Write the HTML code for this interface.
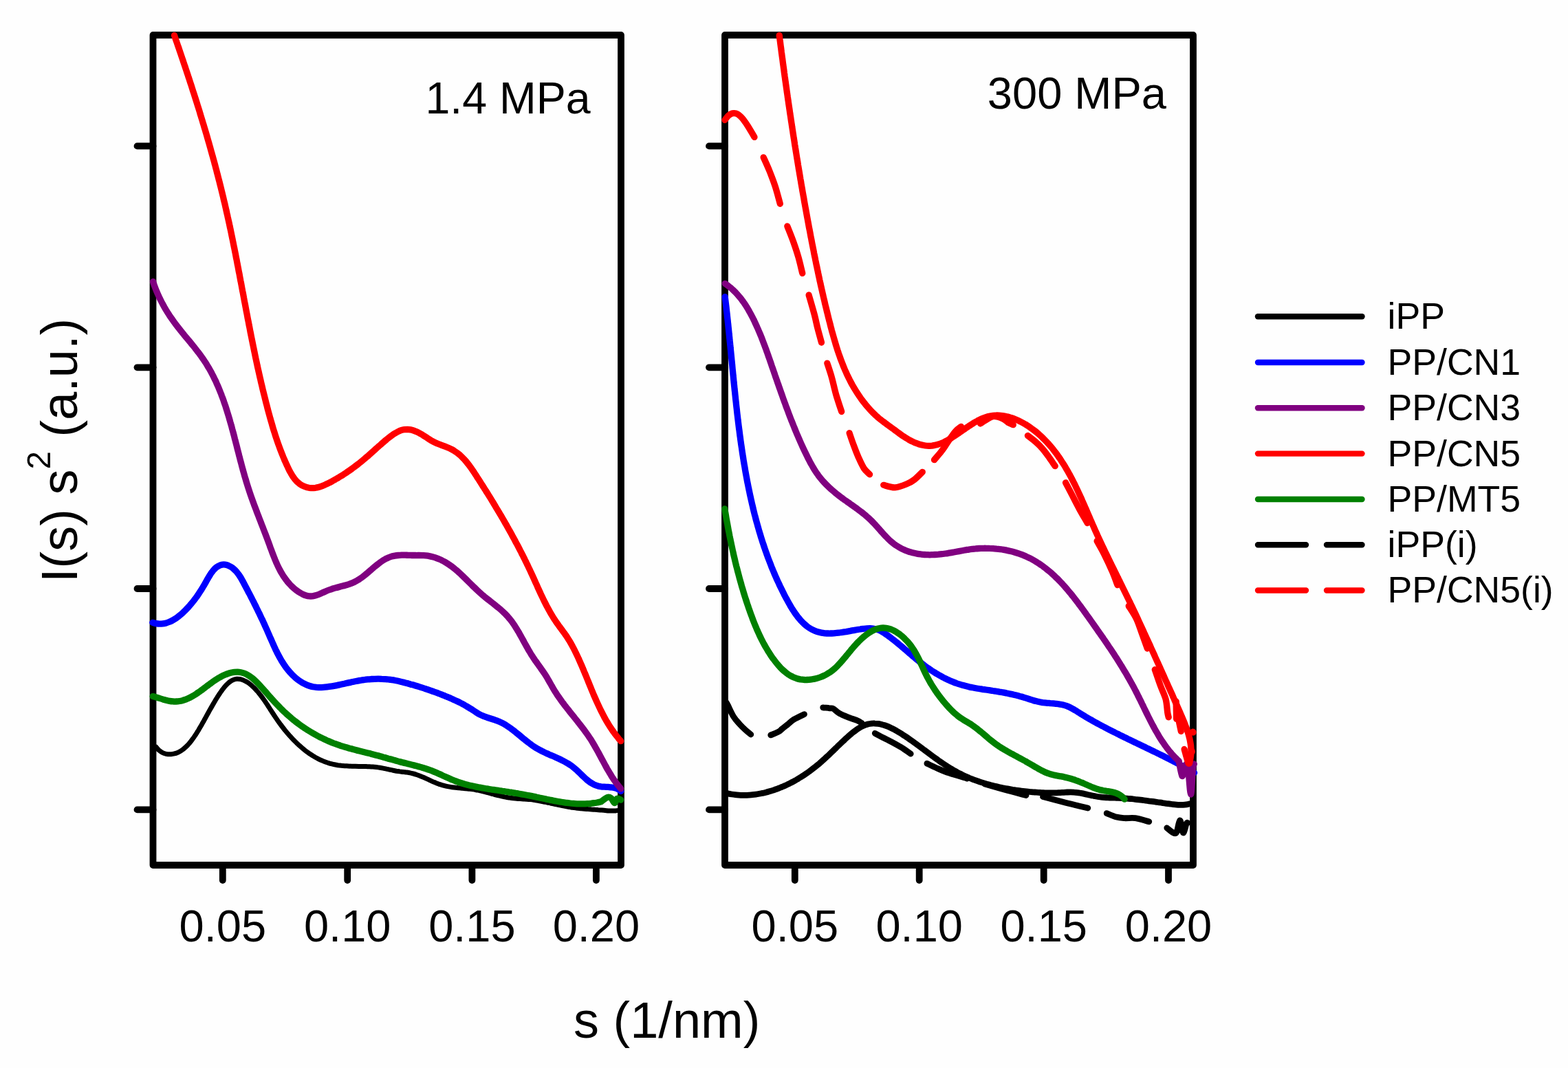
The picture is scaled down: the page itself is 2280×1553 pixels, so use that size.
<!DOCTYPE html>
<html><head><meta charset="utf-8"><title>I(s) s2 vs s</title>
<style>html,body{margin:0;padding:0;background:#fefefe;}svg{display:block;}</style>
</head><body>
<svg xmlns="http://www.w3.org/2000/svg" width="2280" height="1553" viewBox="0 0 2280 1553">
<rect width="2280" height="1553" fill="#fefefe"/>
<g fill="none" stroke="#000" stroke-width="9.8" stroke-linecap="round" stroke-linejoin="round"><path d="M222.5 51H903V1258H222.5Z"/><path d="M199.5 212.4H222.5"/><path d="M199.5 534.3H222.5"/><path d="M199.5 856H222.5"/><path d="M199.5 1177.4H222.5"/><path d="M323.8 1258V1280"/><path d="M505.2 1258V1280"/><path d="M686.4 1258V1280"/><path d="M866.9 1258V1280"/><path d="M1054 51H1735V1258H1054Z"/><path d="M1031 212.4H1054"/><path d="M1031 534.3H1054"/><path d="M1031 856H1054"/><path d="M1031 1177.4H1054"/><path d="M1155.8 1258V1280"/><path d="M1336.7 1258V1280"/><path d="M1517.7 1258V1280"/><path d="M1699 1258V1280"/></g>
<g fill="none" stroke-linecap="round" stroke-linejoin="round"><path d="M227 1086.3C227.6 1087 229.5 1089.4 230.8 1090.6C232.2 1091.8 233.6 1092.9 235 1093.7C236.5 1094.6 238 1095.2 239.5 1095.7C241 1096.2 242.6 1096.5 244.2 1096.7C245.7 1096.8 247.3 1096.8 248.9 1096.7C250.5 1096.6 252 1096.3 253.6 1095.9C255.1 1095.5 256.6 1095 258.1 1094.4C259.6 1093.8 261 1093 262.4 1092.2C263.8 1091.4 265.1 1090.4 266.5 1089.4C267.8 1088.4 269 1087.3 270.2 1086.2C271.5 1085 272.7 1083.8 273.8 1082.5C275 1081.2 276.1 1079.9 277.2 1078.5C278.3 1077.2 279.3 1075.8 280.3 1074.3C281.4 1072.9 282.4 1071.5 283.3 1070C284.3 1068.6 285.2 1067.1 286.2 1065.6C287.1 1064.2 288 1062.7 288.9 1061.3C289.7 1059.8 290.6 1058.4 291.4 1056.9C292.3 1055.5 293.1 1054.1 293.9 1052.6C294.7 1051.2 295.5 1049.8 296.3 1048.4C297.1 1046.9 297.9 1045.5 298.7 1044.1C299.5 1042.7 300.2 1041.2 301 1039.8C301.8 1038.4 302.6 1037 303.4 1035.5C304.1 1034.1 304.9 1032.7 305.7 1031.3C306.5 1029.8 307.3 1028.4 308.2 1027C309 1025.5 309.8 1024.1 310.7 1022.6C311.5 1021.2 312.4 1019.8 313.2 1018.3C314.1 1016.8 315 1015.4 316 1013.9C316.9 1012.4 317.9 1011 318.8 1009.5C319.8 1008 320.8 1006.5 321.9 1005C322.9 1003.5 324 1002 325.1 1000.7C326.2 999.3 327.3 997.9 328.5 996.6C329.7 995.3 330.9 994.1 332.1 993.1C333.3 992 334.6 991 335.9 990.2C337.2 989.4 338.6 988.7 340 988.2C341.3 987.7 342.8 987.4 344.2 987.3C345.6 987.2 347.1 987.3 348.6 987.5C350.1 987.7 351.6 988.2 353.1 988.7C354.6 989.2 356.1 990 357.6 990.8C359.1 991.6 360.5 992.5 361.9 993.5C363.3 994.5 364.7 995.7 366 996.8C367.4 998 368.7 999.3 369.9 1000.5C371.2 1001.8 372.4 1003.1 373.5 1004.5C374.7 1005.8 375.8 1007.1 376.9 1008.5C378 1009.8 379 1011.1 380.1 1012.5C381.1 1013.8 382.1 1015.2 383 1016.5C384 1017.9 385 1019.3 385.9 1020.6C386.8 1022 387.7 1023.3 388.6 1024.7C389.5 1026.1 390.4 1027.4 391.3 1028.8C392.1 1030.2 393 1031.5 393.9 1032.9C394.8 1034.3 395.7 1035.6 396.6 1037C397.5 1038.4 398.3 1039.8 399.3 1041.1C400.2 1042.5 401.1 1043.9 402.1 1045.3C403 1046.6 404 1048 404.9 1049.4C405.9 1050.7 406.9 1052.1 407.9 1053.4C408.9 1054.8 409.9 1056.1 411 1057.5C412 1058.8 413.1 1060.2 414.1 1061.5C415.2 1062.8 416.3 1064.1 417.4 1065.4C418.5 1066.7 419.6 1068 420.7 1069.3C421.9 1070.6 423 1071.8 424.2 1073.1C425.3 1074.3 426.5 1075.6 427.7 1076.8C428.9 1078 430.1 1079.2 431.3 1080.4C432.5 1081.5 433.7 1082.7 435 1083.8C436.2 1085 437.5 1086.1 438.8 1087.2C440.1 1088.3 441.4 1089.3 442.7 1090.4C444 1091.4 445.3 1092.4 446.6 1093.4C448 1094.4 449.3 1095.3 450.7 1096.3C452.1 1097.2 453.5 1098.1 454.9 1099C456.3 1099.8 457.7 1100.7 459.1 1101.5C460.6 1102.3 462 1103 463.5 1103.8C464.9 1104.5 466.4 1105.2 467.9 1105.8C469.4 1106.5 470.9 1107.1 472.4 1107.7C473.9 1108.3 475.5 1108.8 477 1109.3C478.6 1109.8 480.1 1110.3 481.7 1110.7C483.3 1111.1 484.9 1111.5 486.5 1111.8C488.1 1112.1 489.8 1112.4 491.4 1112.7C493 1112.9 494.7 1113.1 496.4 1113.3C498 1113.5 499.7 1113.6 501.4 1113.7C503.1 1113.8 504.8 1113.9 506.5 1114C508.1 1114.1 509.9 1114.2 511.6 1114.2C513.3 1114.3 515 1114.3 516.7 1114.3C518.4 1114.4 520.1 1114.4 521.8 1114.4C523.5 1114.4 525.3 1114.5 527 1114.5C528.7 1114.5 530.4 1114.6 532.1 1114.6C533.8 1114.7 535.5 1114.7 537.2 1114.8C538.9 1114.9 540.6 1115 542.3 1115.1C543.9 1115.2 545.6 1115.4 547.3 1115.6C548.9 1115.8 550.6 1116 552.2 1116.2C553.9 1116.5 555.5 1116.8 557.1 1117.1C558.7 1117.4 560.3 1117.8 561.9 1118.1C563.6 1118.5 565.1 1118.9 566.7 1119.2C568.4 1119.6 570 1119.9 571.6 1120.3C573.2 1120.6 574.8 1120.9 576.4 1121.2C578.1 1121.4 579.7 1121.6 581.4 1121.9C583 1122.1 584.7 1122.2 586.4 1122.4C588 1122.7 589.7 1122.8 591.3 1123.1C593 1123.3 594.6 1123.6 596.3 1123.9C597.9 1124.2 599.5 1124.6 601.1 1125C602.7 1125.4 604.3 1125.9 605.8 1126.5C607.4 1127 609 1127.6 610.5 1128.2C612.1 1128.8 613.6 1129.4 615.1 1130.1C616.6 1130.7 618.2 1131.4 619.7 1132.1C621.2 1132.8 622.7 1133.5 624.2 1134.2C625.8 1134.9 627.3 1135.6 628.8 1136.3C630.3 1137 631.9 1137.6 633.4 1138.3C634.9 1138.9 636.5 1139.5 638 1140.1C639.6 1140.6 641.1 1141.2 642.7 1141.6C644.3 1142.1 645.9 1142.5 647.5 1142.9C649.1 1143.3 650.7 1143.6 652.4 1143.9C654 1144.2 655.7 1144.5 657.3 1144.7C659 1144.9 660.6 1145.1 662.3 1145.3C664 1145.5 665.7 1145.6 667.3 1145.8C669 1145.9 670.7 1146.1 672.4 1146.2C674.1 1146.4 675.7 1146.5 677.4 1146.7C679.1 1146.9 680.8 1147 682.5 1147.2C684.1 1147.4 685.8 1147.6 687.5 1147.9C689.1 1148.1 690.8 1148.4 692.4 1148.7C694.1 1149 695.7 1149.4 697.4 1149.7C699 1150.1 700.6 1150.5 702.2 1150.9C703.9 1151.3 705.5 1151.7 707.1 1152.1C708.7 1152.5 710.4 1152.9 712 1153.4C713.6 1153.8 715.2 1154.3 716.8 1154.7C718.4 1155.1 720 1155.6 721.7 1156C723.3 1156.4 724.9 1156.8 726.5 1157.2C728.1 1157.6 729.8 1158 731.4 1158.3C733 1158.6 734.7 1159 736.3 1159.3C737.9 1159.6 739.6 1159.8 741.2 1160.1C742.9 1160.3 744.5 1160.5 746.2 1160.7C747.8 1160.9 749.5 1161.1 751.2 1161.2C752.8 1161.4 754.5 1161.5 756.2 1161.6C757.8 1161.7 759.5 1161.8 761.1 1161.9C762.8 1162 764.5 1162.1 766.1 1162.2C767.8 1162.3 769.5 1162.5 771.1 1162.6C772.8 1162.8 774.4 1163 776 1163.3C777.7 1163.5 779.3 1163.8 781 1164.1C782.6 1164.4 784.2 1164.7 785.9 1165C787.5 1165.3 789.1 1165.6 790.8 1166C792.4 1166.3 794 1166.7 795.7 1167C797.3 1167.3 798.9 1167.7 800.6 1168C802.2 1168.4 803.8 1168.7 805.5 1169.1C807.1 1169.4 808.7 1169.8 810.4 1170.1C812 1170.5 813.6 1170.8 815.3 1171.1C816.9 1171.5 818.5 1171.8 820.2 1172.1C821.8 1172.4 823.4 1172.7 825.1 1173C826.7 1173.3 828.4 1173.6 830 1173.9C831.7 1174.1 833.3 1174.4 835 1174.6C836.6 1174.9 838.3 1175.1 839.9 1175.3C841.6 1175.5 843.3 1175.6 844.9 1175.8C846.6 1175.9 848.3 1176.1 849.9 1176.2C851.6 1176.3 853.3 1176.4 855 1176.6C856.6 1176.7 858.3 1176.8 860 1176.9C861.7 1177 863.3 1177.1 865 1177.3C866.7 1177.4 868.4 1177.5 870 1177.7C871.7 1177.8 873.4 1178 875 1178.1C876.7 1178.3 878.4 1178.5 880 1178.6C881.7 1178.7 883.3 1178.9 885 1178.9C886.7 1179 888.3 1179.1 890 1179.1C891.7 1179.1 893.3 1179 895 1178.9C896.7 1178.8 899.2 1178.5 900 1178.4" stroke="#000000" stroke-width="7"/><path d="M221.8 905.3C222.7 905.5 225.3 906.4 227 906.7C228.7 907 230.3 907.2 232 907.2C233.7 907.2 235.3 907.1 236.9 906.9C238.5 906.7 240.1 906.3 241.7 905.9C243.3 905.5 244.8 904.9 246.3 904.3C247.9 903.6 249.4 902.9 250.8 902.1C252.3 901.3 253.7 900.4 255.2 899.5C256.6 898.6 258 897.5 259.3 896.5C260.7 895.4 262 894.3 263.3 893.2C264.6 892.1 265.9 890.9 267.1 889.7C268.4 888.5 269.6 887.3 270.7 886.1C271.9 884.9 273.1 883.7 274.2 882.5C275.3 881.2 276.4 880 277.4 878.8C278.5 877.5 279.5 876.3 280.5 875C281.5 873.7 282.5 872.5 283.5 871.2C284.5 869.9 285.4 868.6 286.4 867.2C287.3 865.9 288.2 864.6 289.1 863.2C290 861.9 290.9 860.5 291.8 859.1C292.7 857.7 293.6 856.2 294.5 854.8C295.4 853.3 296.2 851.8 297.1 850.3C298 848.8 298.9 847.2 299.7 845.7C300.6 844.1 301.5 842.5 302.4 841C303.3 839.4 304.2 837.8 305.2 836.3C306.1 834.8 307.1 833.3 308.2 831.9C309.2 830.6 310.2 829.2 311.4 828C312.5 826.8 313.7 825.7 314.9 824.8C316.2 823.8 317.5 823 318.9 822.4C320.3 821.8 321.7 821.3 323.2 821.1C324.7 820.9 326.2 820.9 327.6 821.1C329.1 821.3 330.6 821.8 332.1 822.4C333.5 823 335 823.8 336.4 824.7C337.8 825.6 339.2 826.7 340.4 827.9C341.7 829 343 830.3 344.1 831.6C345.3 832.9 346.3 834.3 347.3 835.7C348.3 837.1 349.2 838.5 350.1 840C351 841.5 351.8 843 352.6 844.5C353.5 846 354.3 847.5 355 849C355.8 850.5 356.6 852 357.4 853.5C358.2 855 359 856.5 359.8 858C360.6 859.5 361.3 861 362.1 862.4C362.9 863.9 363.7 865.4 364.4 866.9C365.2 868.4 365.9 869.9 366.7 871.4C367.5 872.9 368.2 874.3 369 875.8C369.7 877.3 370.5 878.8 371.2 880.3C372 881.8 372.7 883.3 373.4 884.8C374.2 886.2 374.9 887.7 375.6 889.2C376.3 890.7 377.1 892.2 377.8 893.7C378.5 895.2 379.2 896.7 379.9 898.2C380.6 899.7 381.4 901.2 382.1 902.7C382.8 904.2 383.5 905.7 384.2 907.3C384.9 908.8 385.5 910.3 386.2 911.8C386.9 913.3 387.6 914.9 388.3 916.4C389 917.9 389.6 919.5 390.3 921C391 922.6 391.7 924.1 392.3 925.7C393 927.2 393.7 928.8 394.4 930.3C395 931.8 395.7 933.4 396.4 934.9C397.1 936.5 397.8 938 398.5 939.6C399.2 941.1 399.9 942.6 400.6 944.2C401.3 945.7 402.1 947.2 402.8 948.7C403.6 950.2 404.4 951.7 405.2 953.2C405.9 954.7 406.8 956.2 407.6 957.6C408.4 959.1 409.3 960.5 410.1 961.9C411 963.4 411.9 964.8 412.9 966.2C413.8 967.6 414.7 968.9 415.7 970.3C416.7 971.6 417.7 973 418.8 974.3C419.9 975.6 420.9 976.9 422.1 978.1C423.2 979.4 424.3 980.6 425.5 981.8C426.7 983 427.9 984.1 429.2 985.2C430.5 986.3 431.7 987.4 433.1 988.4C434.4 989.4 435.7 990.3 437.1 991.2C438.5 992.1 439.9 992.9 441.3 993.7C442.8 994.5 444.2 995.2 445.8 995.8C447.3 996.5 448.8 997 450.4 997.5C451.9 998 453.5 998.4 455.1 998.7C456.8 999 458.4 999.2 460.1 999.4C461.8 999.5 463.5 999.6 465.2 999.6C466.9 999.6 468.6 999.5 470.3 999.4C472.1 999.3 473.8 999.1 475.5 998.9C477.3 998.7 479 998.5 480.7 998.2C482.4 998 484.1 997.7 485.8 997.4C487.5 997.1 489.2 996.7 490.8 996.4C492.5 996 494.1 995.7 495.8 995.3C497.4 995 499 994.6 500.6 994.3C502.3 993.9 503.9 993.5 505.5 993.1C507.1 992.8 508.7 992.4 510.3 992.1C511.9 991.7 513.5 991.4 515.2 991C516.8 990.7 518.4 990.4 520 990.1C521.6 989.8 523.3 989.5 524.9 989.2C526.5 988.9 528.2 988.7 529.8 988.5C531.5 988.3 533.1 988.1 534.8 987.9C536.5 987.7 538.2 987.6 539.8 987.5C541.5 987.4 543.2 987.3 544.9 987.3C546.6 987.2 548.3 987.2 550 987.2C551.7 987.2 553.3 987.2 555 987.3C556.7 987.3 558.4 987.4 560.1 987.6C561.7 987.7 563.4 987.8 565.1 988C566.7 988.2 568.4 988.4 570 988.7C571.7 988.9 573.3 989.2 574.9 989.5C576.6 989.8 578.2 990.2 579.8 990.5C581.4 990.9 583 991.3 584.7 991.7C586.3 992.1 587.9 992.5 589.5 992.9C591.1 993.3 592.7 993.8 594.3 994.2C595.9 994.7 597.5 995.1 599.1 995.6C600.7 996 602.3 996.5 603.9 997C605.4 997.5 607 997.9 608.6 998.4C610.2 998.9 611.8 999.4 613.4 999.9C615 1000.4 616.6 1000.9 618.2 1001.5C619.8 1002 621.4 1002.5 622.9 1003C624.5 1003.6 626.1 1004.1 627.7 1004.7C629.3 1005.2 630.8 1005.8 632.4 1006.4C634 1006.9 635.5 1007.5 637.1 1008.1C638.7 1008.7 640.2 1009.3 641.8 1009.9C643.4 1010.5 644.9 1011.1 646.5 1011.7C648 1012.4 649.6 1013 651.1 1013.7C652.7 1014.3 654.2 1015 655.8 1015.6C657.3 1016.3 658.8 1017 660.3 1017.7C661.9 1018.4 663.4 1019.1 664.9 1019.8C666.4 1020.5 667.9 1021.2 669.4 1022C670.9 1022.8 672.4 1023.5 673.9 1024.3C675.3 1025.1 676.8 1025.9 678.2 1026.8C679.7 1027.6 681.1 1028.5 682.6 1029.4C684 1030.2 685.4 1031.2 686.8 1032.1C688.2 1033 689.6 1034 691 1034.9C692.4 1035.8 693.8 1036.7 695.2 1037.6C696.6 1038.4 698.1 1039.2 699.6 1039.9C701.1 1040.6 702.7 1041.2 704.2 1041.8C705.8 1042.4 707.3 1043 708.9 1043.5C710.5 1044 712.1 1044.5 713.7 1045C715.3 1045.5 716.9 1046 718.5 1046.5C720.1 1047.1 721.6 1047.6 723.2 1048.2C724.7 1048.8 726.2 1049.4 727.7 1050.1C729.2 1050.8 730.7 1051.5 732.1 1052.3C733.5 1053.1 734.9 1054 736.3 1054.8C737.7 1055.7 739.1 1056.6 740.4 1057.6C741.8 1058.5 743.1 1059.5 744.4 1060.5C745.8 1061.5 747.1 1062.5 748.4 1063.5C749.7 1064.6 751 1065.6 752.3 1066.7C753.6 1067.7 754.9 1068.8 756.2 1069.9C757.4 1070.9 758.7 1072 760 1073.1C761.3 1074.2 762.6 1075.2 763.9 1076.3C765.2 1077.3 766.5 1078.4 767.9 1079.4C769.2 1080.4 770.5 1081.4 771.9 1082.4C773.2 1083.4 774.6 1084.4 776 1085.3C777.4 1086.2 778.8 1087.1 780.2 1088C781.6 1088.8 783.1 1089.7 784.5 1090.4C786 1091.2 787.5 1092 789 1092.7C790.5 1093.5 792 1094.2 793.5 1094.9C795.1 1095.6 796.6 1096.2 798.1 1096.9C799.7 1097.6 801.2 1098.3 802.8 1098.9C804.3 1099.6 805.8 1100.3 807.4 1100.9C808.9 1101.6 810.5 1102.3 812 1103C813.5 1103.7 815 1104.4 816.5 1105.2C818 1105.9 819.5 1106.7 821 1107.5C822.5 1108.3 823.9 1109.1 825.4 1110C826.8 1110.8 828.2 1111.7 829.6 1112.7C831 1113.6 832.4 1114.6 833.7 1115.7C835 1116.8 836.3 1117.9 837.6 1119C838.9 1120.1 840.1 1121.3 841.4 1122.5C842.6 1123.7 843.8 1124.9 845.1 1126.1C846.3 1127.3 847.5 1128.5 848.8 1129.7C850 1130.8 851.3 1132 852.5 1133.1C853.8 1134.2 855.1 1135.2 856.4 1136.2C857.7 1137.2 859 1138.1 860.4 1138.9C861.7 1139.8 863.1 1140.6 864.6 1141.2C866 1141.8 867.5 1142.4 869.1 1142.8C870.6 1143.3 872.2 1143.5 873.8 1143.8C875.5 1144 877.2 1144.1 878.9 1144.2C880.6 1144.3 882.3 1144.3 884 1144.4C885.7 1144.6 887.4 1144.6 889.1 1144.9C890.8 1145.1 892.4 1145.3 894 1145.8C895.6 1146.2 897.2 1146.8 898.6 1147.5C900.1 1148.3 902.1 1150 902.8 1150.5" stroke="#0000ff" stroke-width="9.3"/><path d="M222.5 409.5C222.8 410.3 223.6 412.7 224.1 414.3C224.7 415.9 225.3 417.5 225.9 419.1C226.5 420.7 227.1 422.2 227.8 423.8C228.4 425.3 229.1 426.9 229.8 428.4C230.5 429.9 231.2 431.4 231.9 433C232.6 434.5 233.3 435.9 234.1 437.4C234.8 438.9 235.6 440.4 236.4 441.8C237.2 443.3 238 444.7 238.8 446.2C239.6 447.6 240.5 449 241.3 450.5C242.2 451.9 243 453.3 243.9 454.7C244.8 456.1 245.7 457.5 246.6 458.9C247.5 460.3 248.5 461.6 249.4 463C250.4 464.4 251.3 465.7 252.3 467.1C253.3 468.4 254.2 469.8 255.2 471.1C256.2 472.4 257.3 473.8 258.3 475.1C259.3 476.4 260.3 477.7 261.4 479C262.4 480.4 263.5 481.7 264.5 483C265.6 484.3 266.7 485.6 267.7 486.9C268.8 488.2 269.9 489.5 270.9 490.8C272 492.1 273.1 493.4 274.2 494.7C275.2 496 276.3 497.3 277.4 498.6C278.4 499.9 279.5 501.2 280.6 502.5C281.6 503.8 282.7 505.1 283.7 506.4C284.8 507.7 285.8 509.1 286.8 510.4C287.9 511.7 288.9 513 289.9 514.4C290.9 515.7 291.9 517.1 292.8 518.4C293.8 519.8 294.7 521.1 295.7 522.5C296.6 523.9 297.5 525.3 298.4 526.6C299.3 528 300.2 529.4 301.1 530.9C302 532.3 302.8 533.7 303.6 535.1C304.5 536.5 305.3 538 306.1 539.4C306.9 540.9 307.7 542.3 308.4 543.8C309.2 545.2 309.9 546.7 310.7 548.2C311.4 549.7 312.1 551.2 312.9 552.7C313.6 554.1 314.3 555.6 314.9 557.2C315.6 558.7 316.3 560.2 317 561.7C317.6 563.2 318.3 564.7 318.9 566.3C319.5 567.8 320.1 569.4 320.7 570.9C321.4 572.4 322 574 322.5 575.6C323.1 577.1 323.7 578.7 324.3 580.2C324.8 581.8 325.4 583.4 325.9 585C326.5 586.5 327 588.1 327.6 589.7C328.1 591.3 328.6 592.9 329.1 594.5C329.6 596.1 330.1 597.7 330.6 599.3C331.1 600.9 331.6 602.5 332.1 604.1C332.6 605.7 333.1 607.3 333.5 609C334 610.6 334.5 612.2 334.9 613.8C335.4 615.4 335.9 617.1 336.3 618.7C336.8 620.3 337.2 621.9 337.6 623.6C338.1 625.2 338.5 626.8 339 628.5C339.4 630.1 339.8 631.7 340.3 633.4C340.7 635 341.1 636.7 341.5 638.3C342 639.9 342.4 641.6 342.8 643.2C343.2 644.9 343.7 646.5 344.1 648.1C344.5 649.8 344.9 651.4 345.3 653.1C345.7 654.7 346.2 656.3 346.6 658C347 659.6 347.4 661.3 347.8 662.9C348.3 664.5 348.7 666.2 349.1 667.8C349.5 669.4 350 671.1 350.4 672.7C350.8 674.3 351.3 676 351.7 677.6C352.1 679.2 352.6 680.8 353 682.5C353.5 684.1 353.9 685.7 354.4 687.3C354.8 689 355.3 690.6 355.7 692.2C356.2 693.8 356.7 695.4 357.2 697C357.6 698.6 358.1 700.2 358.6 701.8C359.1 703.4 359.6 705 360.1 706.6C360.6 708.2 361.1 709.8 361.6 711.3C362.1 712.9 362.6 714.5 363.2 716.1C363.7 717.6 364.2 719.2 364.8 720.8C365.3 722.3 365.9 723.9 366.4 725.4C367 727 367.6 728.6 368.1 730.1C368.7 731.7 369.3 733.2 369.8 734.8C370.4 736.3 371 737.8 371.6 739.4C372.2 740.9 372.8 742.5 373.3 744C373.9 745.6 374.5 747.1 375.1 748.7C375.7 750.2 376.3 751.7 376.9 753.3C377.5 754.8 378.1 756.4 378.7 757.9C379.3 759.5 379.9 761 380.5 762.6C381.1 764.1 381.7 765.6 382.3 767.2C382.9 768.8 383.5 770.3 384.1 771.9C384.7 773.4 385.3 775 385.9 776.5C386.5 778.1 387.1 779.7 387.7 781.2C388.3 782.8 388.9 784.4 389.5 786C390 787.5 390.6 789.1 391.2 790.7C391.8 792.3 392.4 793.9 392.9 795.5C393.5 797.1 394.1 798.6 394.7 800.2C395.3 801.8 395.9 803.4 396.5 805C397.1 806.6 397.7 808.1 398.3 809.7C398.9 811.3 399.6 812.8 400.2 814.4C400.9 815.9 401.5 817.5 402.2 819C402.9 820.6 403.6 822.1 404.3 823.6C405 825.1 405.8 826.6 406.6 828.1C407.3 829.5 408.1 831 408.9 832.4C409.8 833.9 410.6 835.3 411.5 836.7C412.4 838.1 413.3 839.4 414.3 840.8C415.2 842.1 416.2 843.5 417.3 844.8C418.3 846.1 419.4 847.3 420.5 848.6C421.6 849.8 422.7 851.1 423.9 852.2C425.2 853.4 426.4 854.6 427.7 855.7C429 856.8 430.3 857.9 431.7 858.9C433.1 860 434.6 861 436 861.8C437.5 862.7 439 863.6 440.5 864.3C442 865 443.6 865.6 445.1 866C446.7 866.5 448.3 866.8 449.8 866.9C451.4 867.1 453 867 454.5 866.9C456.1 866.7 457.6 866.3 459.2 865.8C460.7 865.4 462.3 864.8 463.8 864.2C465.4 863.6 467 862.8 468.5 862.1C470.1 861.4 471.7 860.7 473.3 860C474.8 859.3 476.4 858.6 478 858C479.7 857.4 481.3 856.9 482.9 856.3C484.5 855.8 486.2 855.4 487.8 854.9C489.4 854.4 491 854 492.7 853.6C494.3 853.2 495.9 852.8 497.5 852.3C499.2 851.9 500.8 851.5 502.4 851C503.9 850.6 505.5 850.1 507.1 849.6C508.7 849 510.2 848.5 511.7 847.9C513.2 847.2 514.7 846.6 516.2 845.8C517.7 845.1 519.1 844.3 520.5 843.4C521.9 842.6 523.3 841.6 524.7 840.7C526.1 839.7 527.4 838.7 528.8 837.6C530.1 836.6 531.5 835.5 532.8 834.4C534.1 833.3 535.4 832.2 536.7 831C538 829.9 539.3 828.8 540.6 827.7C541.9 826.5 543.2 825.4 544.5 824.3C545.8 823.2 547.1 822.1 548.5 821.1C549.8 820 551.1 819 552.5 818C553.8 817 555.2 816.1 556.5 815.2C557.9 814.3 559.3 813.5 560.7 812.7C562.1 812 563.6 811.3 565 810.7C566.5 810.1 568 809.6 569.5 809.1C571.1 808.7 572.6 808.4 574.2 808.1C575.8 807.8 577.4 807.6 579 807.5C580.7 807.4 582.3 807.3 584 807.2C585.6 807.2 587.3 807.2 589 807.2C590.7 807.2 592.4 807.3 594 807.3C595.7 807.4 597.4 807.4 599.1 807.5C600.8 807.5 602.5 807.5 604.2 807.5C605.8 807.6 607.5 807.5 609.2 807.5C610.8 807.5 612.5 807.5 614.2 807.6C615.8 807.7 617.5 807.7 619.1 807.9C620.8 808.1 622.4 808.3 624.1 808.6C625.7 808.9 627.4 809.3 629 809.7C630.6 810.1 632.2 810.6 633.8 811.2C635.4 811.7 637 812.3 638.5 813C640 813.6 641.5 814.3 643 815.1C644.5 815.8 645.9 816.6 647.3 817.4C648.8 818.3 650.1 819.1 651.5 820C652.9 820.9 654.2 821.9 655.6 822.8C656.9 823.8 658.2 824.8 659.5 825.8C660.8 826.8 662.1 827.9 663.3 828.9C664.6 830 665.9 831.1 667.1 832.2C668.3 833.3 669.6 834.5 670.8 835.6C672 836.8 673.2 837.9 674.4 839.1C675.6 840.3 676.8 841.4 678 842.6C679.2 843.8 680.4 845 681.6 846.2C682.8 847.4 684 848.6 685.2 849.8C686.4 851 687.6 852.2 688.8 853.4C690.1 854.5 691.3 855.7 692.5 856.9C693.7 858.1 695 859.2 696.2 860.4C697.4 861.5 698.7 862.6 700 863.7C701.2 864.9 702.5 865.9 703.8 867C705.1 868.1 706.4 869.1 707.7 870.2C709 871.2 710.4 872.3 711.7 873.3C713 874.4 714.3 875.4 715.6 876.4C716.9 877.4 718.2 878.5 719.5 879.5C720.8 880.5 722.1 881.6 723.4 882.6C724.7 883.7 726 884.7 727.2 885.8C728.5 886.9 729.7 888 730.9 889.1C732.1 890.2 733.3 891.3 734.5 892.5C735.6 893.7 736.7 894.8 737.8 896C738.9 897.3 740 898.5 741 899.8C742.1 901.1 743.1 902.4 744.1 903.7C745 905 746 906.4 746.9 907.7C747.9 909.1 748.8 910.5 749.7 911.9C750.6 913.3 751.4 914.7 752.3 916.2C753.2 917.6 754 919 754.9 920.5C755.7 922 756.5 923.4 757.3 924.9C758.2 926.4 759 927.9 759.8 929.4C760.6 930.8 761.4 932.3 762.2 933.8C763.1 935.3 763.9 936.8 764.7 938.3C765.5 939.8 766.3 941.2 767.2 942.7C768 944.2 768.8 945.6 769.7 947.1C770.6 948.5 771.4 950 772.3 951.4C773.2 952.8 774.1 954.2 775 955.6C776 957 776.9 958.4 777.8 959.8C778.8 961.1 779.7 962.5 780.7 963.8C781.7 965.2 782.6 966.5 783.6 967.9C784.6 969.2 785.5 970.6 786.5 971.9C787.4 973.3 788.4 974.6 789.3 976C790.3 977.4 791.2 978.7 792.1 980.1C793 981.5 793.9 982.9 794.8 984.3C795.7 985.7 796.5 987.2 797.3 988.6C798.2 990.1 799 991.5 799.8 993C800.6 994.4 801.5 995.9 802.3 997.4C803.1 998.8 803.9 1000.3 804.8 1001.7C805.6 1003.1 806.5 1004.6 807.4 1006C808.3 1007.4 809.2 1008.8 810.1 1010.2C811 1011.6 812 1012.9 812.9 1014.3C813.9 1015.7 814.9 1017 815.8 1018.4C816.8 1019.7 817.8 1021.1 818.8 1022.4C819.8 1023.7 820.8 1025.1 821.8 1026.4C822.8 1027.7 823.9 1029 824.9 1030.3C825.9 1031.6 827 1032.9 828 1034.3C829 1035.6 830.1 1036.9 831.1 1038.2C832.2 1039.5 833.2 1040.8 834.3 1042.1C835.3 1043.4 836.4 1044.7 837.4 1046C838.5 1047.3 839.5 1048.6 840.5 1049.9C841.6 1051.2 842.6 1052.5 843.6 1053.8C844.6 1055.1 845.7 1056.5 846.7 1057.8C847.7 1059.1 848.7 1060.4 849.7 1061.8C850.7 1063.1 851.7 1064.5 852.6 1065.8C853.6 1067.2 854.5 1068.5 855.5 1069.9C856.4 1071.3 857.3 1072.7 858.3 1074.1C859.2 1075.5 860.1 1076.9 860.9 1078.3C861.8 1079.8 862.7 1081.2 863.5 1082.6C864.4 1084.1 865.2 1085.5 866 1087C866.9 1088.4 867.7 1089.9 868.5 1091.4C869.3 1092.9 870.1 1094.3 870.9 1095.8C871.7 1097.3 872.5 1098.8 873.3 1100.2C874.1 1101.7 874.9 1103.2 875.7 1104.7C876.5 1106.2 877.2 1107.7 878.1 1109.1C878.9 1110.6 879.7 1112.1 880.5 1113.6C881.3 1115 882.1 1116.5 882.9 1118C883.8 1119.4 884.6 1120.9 885.5 1122.3C886.3 1123.8 887.2 1125.2 888.1 1126.6C888.9 1128 889.8 1129.5 890.7 1130.9C891.7 1132.3 892.6 1133.6 893.6 1135C894.5 1136.4 895.5 1137.7 896.5 1139.1C897.5 1140.4 898.5 1141.7 899.6 1143C900.6 1144.3 902.3 1146.3 902.8 1146.9" stroke="#800080" stroke-width="9.3"/><path d="M253.5 51.4C253.8 52.2 254.6 54.6 255.1 56.1C255.7 57.7 256.2 59.3 256.8 60.9C257.3 62.4 257.9 64 258.4 65.6C259 67.2 259.5 68.8 260.1 70.3C260.6 71.9 261.1 73.5 261.7 75.1C262.2 76.7 262.8 78.2 263.3 79.8C263.8 81.4 264.4 83 264.9 84.6C265.4 86.1 266 87.7 266.5 89.3C267 90.9 267.6 92.5 268.1 94.1C268.6 95.6 269.2 97.2 269.7 98.8C270.2 100.4 270.8 102 271.3 103.6C271.8 105.1 272.3 106.7 272.9 108.3C273.4 109.9 273.9 111.5 274.4 113.1C275 114.6 275.5 116.2 276 117.8C276.5 119.4 277 121 277.6 122.6C278.1 124.2 278.6 125.7 279.1 127.3C279.6 128.9 280.1 130.5 280.6 132.1C281.1 133.7 281.7 135.3 282.2 136.9C282.7 138.4 283.2 140 283.7 141.6C284.2 143.2 284.7 144.8 285.2 146.4C285.7 148 286.2 149.6 286.7 151.2C287.2 152.8 287.7 154.3 288.2 155.9C288.7 157.5 289.2 159.1 289.7 160.7C290.2 162.3 290.7 163.9 291.1 165.5C291.6 167.1 292.1 168.7 292.6 170.3C293.1 171.9 293.6 173.5 294.1 175.1C294.6 176.7 295 178.3 295.5 179.8C296 181.4 296.5 183 296.9 184.6C297.4 186.2 297.9 187.8 298.4 189.4C298.8 191 299.3 192.6 299.8 194.2C300.3 195.8 300.7 197.4 301.2 199C301.7 200.6 302.1 202.2 302.6 203.8C303 205.4 303.5 207 304 208.6C304.4 210.2 304.9 211.8 305.3 213.4C305.8 215 306.2 216.6 306.7 218.3C307.1 219.9 307.6 221.5 308 223.1C308.5 224.7 308.9 226.3 309.4 227.9C309.8 229.5 310.2 231.1 310.7 232.7C311.1 234.3 311.6 235.9 312 237.5C312.4 239.1 312.9 240.7 313.3 242.4C313.7 244 314.1 245.6 314.6 247.2C315 248.8 315.4 250.4 315.8 252C316.3 253.6 316.7 255.3 317.1 256.9C317.5 258.5 317.9 260.1 318.3 261.7C318.8 263.3 319.2 264.9 319.6 266.6C320 268.2 320.4 269.8 320.8 271.4C321.2 273 321.6 274.6 322 276.3C322.4 277.9 322.8 279.5 323.2 281.1C323.6 282.7 324 284.4 324.4 286C324.8 287.6 325.1 289.2 325.5 290.8C325.9 292.5 326.3 294.1 326.7 295.7C327.1 297.3 327.4 299 327.8 300.6C328.2 302.2 328.6 303.8 328.9 305.5C329.3 307.1 329.7 308.7 330 310.4C330.4 312 330.8 313.6 331.1 315.2C331.5 316.9 331.8 318.5 332.2 320.1C332.6 321.8 332.9 323.4 333.3 325C333.6 326.7 334 328.3 334.3 329.9C334.7 331.6 335 333.2 335.4 334.8C335.7 336.5 336 338.1 336.4 339.7C336.7 341.4 337.1 343 337.4 344.6C337.7 346.3 338.1 347.9 338.4 349.5C338.7 351.2 339.1 352.8 339.4 354.5C339.7 356.1 340.1 357.7 340.4 359.4C340.7 361 341.1 362.6 341.4 364.3C341.7 365.9 342 367.6 342.4 369.2C342.7 370.8 343 372.5 343.3 374.1C343.6 375.8 344 377.4 344.3 379C344.6 380.7 344.9 382.3 345.2 384C345.6 385.6 345.9 387.3 346.2 388.9C346.5 390.5 346.8 392.2 347.1 393.8C347.4 395.5 347.8 397.1 348.1 398.7C348.4 400.4 348.7 402 349 403.7C349.3 405.3 349.6 407 349.9 408.6C350.3 410.2 350.6 411.9 350.9 413.5C351.2 415.2 351.5 416.8 351.8 418.5C352.1 420.1 352.4 421.7 352.7 423.4C353.1 425 353.4 426.7 353.7 428.3C354 430 354.3 431.6 354.6 433.2C354.9 434.9 355.2 436.5 355.5 438.2C355.8 439.8 356.2 441.5 356.5 443.1C356.8 444.7 357.1 446.4 357.4 448C357.7 449.7 358 451.3 358.3 452.9C358.6 454.6 359 456.2 359.3 457.9C359.6 459.5 359.9 461.2 360.2 462.8C360.5 464.4 360.8 466.1 361.2 467.7C361.5 469.4 361.8 471 362.1 472.6C362.4 474.3 362.8 475.9 363.1 477.5C363.4 479.2 363.7 480.8 364 482.5C364.4 484.1 364.7 485.7 365 487.4C365.3 489 365.7 490.7 366 492.3C366.3 493.9 366.6 495.6 367 497.2C367.3 498.8 367.6 500.5 368 502.1C368.3 503.7 368.6 505.4 369 507C369.3 508.6 369.6 510.3 370 511.9C370.3 513.5 370.7 515.2 371 516.8C371.3 518.4 371.7 520.1 372 521.7C372.4 523.3 372.7 524.9 373.1 526.6C373.4 528.2 373.8 529.8 374.1 531.5C374.5 533.1 374.8 534.7 375.2 536.3C375.6 538 375.9 539.6 376.3 541.2C376.6 542.8 377 544.5 377.4 546.1C377.7 547.7 378.1 549.3 378.5 550.9C378.9 552.6 379.2 554.2 379.6 555.8C380 557.4 380.4 559 380.8 560.7C381.1 562.3 381.5 563.9 381.9 565.5C382.3 567.1 382.7 568.7 383.1 570.4C383.5 572 383.9 573.6 384.3 575.2C384.7 576.8 385.1 578.4 385.5 580C385.9 581.6 386.3 583.3 386.7 584.9C387.1 586.5 387.5 588.1 388 589.7C388.4 591.3 388.8 592.9 389.2 594.5C389.6 596.1 390.1 597.7 390.5 599.3C390.9 600.9 391.4 602.5 391.8 604.1C392.2 605.7 392.7 607.3 393.1 608.9C393.6 610.5 394 612.1 394.5 613.7C395 615.3 395.4 616.9 395.9 618.5C396.4 620.1 396.8 621.7 397.3 623.3C397.8 624.9 398.3 626.5 398.8 628C399.3 629.6 399.8 631.2 400.3 632.8C400.8 634.4 401.3 636 401.9 637.6C402.4 639.2 402.9 640.7 403.5 642.3C404 643.9 404.6 645.5 405.2 647.1C405.7 648.6 406.3 650.2 406.9 651.8C407.5 653.4 408.1 655 408.7 656.5C409.3 658.1 409.9 659.7 410.6 661.3C411.2 662.8 411.8 664.4 412.5 666C413.2 667.6 413.8 669.1 414.5 670.7C415.2 672.3 415.9 673.9 416.6 675.4C417.4 677 418.1 678.6 418.8 680.1C419.6 681.7 420.3 683.2 421.1 684.8C421.9 686.3 422.8 687.8 423.6 689.3C424.5 690.7 425.4 692.2 426.3 693.5C427.3 694.9 428.2 696.2 429.3 697.5C430.3 698.7 431.4 699.9 432.6 701C433.7 702.1 435 703.1 436.2 704C437.5 704.9 438.9 705.7 440.3 706.4C441.7 707.1 443.2 707.7 444.7 708.2C446.2 708.7 447.7 709 449.3 709.3C450.9 709.5 452.5 709.7 454.1 709.7C455.7 709.7 457.3 709.5 458.9 709.3C460.5 709 462.2 708.6 463.8 708.2C465.4 707.7 467 707.2 468.6 706.6C470.2 706 471.8 705.3 473.3 704.6C474.9 703.9 476.4 703.2 478 702.4C479.5 701.7 481 700.9 482.5 700.1C484 699.3 485.5 698.4 486.9 697.6C488.4 696.8 489.9 695.9 491.3 695.1C492.8 694.2 494.2 693.3 495.6 692.4C497.1 691.6 498.5 690.7 499.9 689.7C501.3 688.8 502.7 687.9 504.1 687C505.4 686 506.8 685.1 508.2 684.1C509.5 683.2 510.9 682.2 512.2 681.2C513.6 680.2 514.9 679.3 516.2 678.3C517.5 677.3 518.9 676.2 520.2 675.2C521.5 674.2 522.8 673.2 524 672.2C525.3 671.1 526.6 670.1 527.9 669C529.1 668 530.4 666.9 531.6 665.9C532.9 664.8 534.1 663.7 535.4 662.7C536.6 661.6 537.8 660.5 539.1 659.4C540.3 658.3 541.5 657.2 542.7 656.1C543.9 655 545.2 653.9 546.4 652.8C547.6 651.7 548.8 650.6 550.1 649.5C551.3 648.4 552.6 647.3 553.9 646.2C555.1 645.1 556.4 644 557.7 642.9C559 641.7 560.3 640.6 561.7 639.5C563 638.4 564.4 637.3 565.8 636.2C567.2 635.1 568.6 634 570 633C571.4 632 572.9 631 574.4 630.1C575.8 629.2 577.3 628.3 578.8 627.6C580.3 626.9 581.8 626.2 583.3 625.7C584.8 625.2 586.4 624.8 587.9 624.6C589.4 624.4 591 624.3 592.5 624.3C594.1 624.4 595.6 624.6 597.1 624.9C598.7 625.2 600.2 625.7 601.8 626.2C603.3 626.7 604.8 627.3 606.3 628C607.8 628.7 609.3 629.5 610.8 630.3C612.3 631.1 613.8 632 615.2 632.9C616.7 633.8 618.1 634.8 619.5 635.7C620.9 636.6 622.3 637.6 623.7 638.5C625.1 639.4 626.5 640.3 628 641.2C629.5 642 631 642.8 632.6 643.5C634.1 644.2 635.7 644.9 637.3 645.5C638.9 646.2 640.5 646.8 642.1 647.4C643.8 648 645.4 648.6 647 649.2C648.6 649.8 650.2 650.4 651.7 651.1C653.3 651.8 654.8 652.5 656.3 653.2C657.8 654 659.2 654.8 660.6 655.7C662 656.5 663.3 657.4 664.6 658.4C665.9 659.4 667.2 660.4 668.4 661.4C669.6 662.5 670.8 663.6 671.9 664.7C673.1 665.9 674.2 667 675.3 668.2C676.4 669.5 677.5 670.7 678.5 672C679.6 673.2 680.6 674.5 681.6 675.8C682.6 677.2 683.5 678.5 684.5 679.8C685.5 681.2 686.4 682.6 687.4 684C688.3 685.3 689.2 686.7 690.1 688.1C691.1 689.5 692 690.9 692.9 692.3C693.8 693.8 694.7 695.2 695.6 696.6C696.5 698 697.4 699.4 698.3 700.8C699.2 702.2 700.1 703.6 701 705C701.9 706.5 702.8 707.9 703.7 709.3C704.6 710.7 705.5 712.1 706.4 713.5C707.3 715 708.2 716.4 709.1 717.8C709.9 719.2 710.8 720.6 711.7 722.1C712.6 723.5 713.5 724.9 714.3 726.3C715.2 727.7 716.1 729.2 717 730.6C717.8 732 718.7 733.5 719.6 734.9C720.4 736.3 721.3 737.7 722.1 739.2C723 740.6 723.9 742 724.7 743.5C725.6 744.9 726.4 746.3 727.3 747.8C728.1 749.2 729 750.7 729.8 752.1C730.6 753.5 731.5 755 732.3 756.4C733.1 757.9 734 759.3 734.8 760.8C735.6 762.2 736.5 763.7 737.3 765.1C738.1 766.6 738.9 768 739.7 769.5C740.5 770.9 741.4 772.4 742.2 773.8C743 775.3 743.8 776.7 744.6 778.2C745.4 779.7 746.2 781.1 747 782.6C747.8 784.1 748.6 785.5 749.3 787C750.1 788.5 750.9 789.9 751.7 791.4C752.5 792.9 753.3 794.3 754 795.8C754.8 797.3 755.6 798.8 756.3 800.3C757.1 801.7 757.9 803.2 758.6 804.7C759.4 806.2 760.1 807.7 760.9 809.2C761.6 810.7 762.4 812.1 763.1 813.6C763.8 815.1 764.6 816.6 765.3 818.1C766 819.6 766.8 821.1 767.5 822.6C768.2 824.1 768.9 825.6 769.6 827.1C770.4 828.6 771.1 830.2 771.8 831.7C772.5 833.2 773.2 834.7 773.9 836.2C774.6 837.7 775.3 839.2 776 840.8C776.6 842.3 777.3 843.8 778 845.3C778.7 846.9 779.4 848.4 780.1 849.9C780.8 851.4 781.5 852.9 782.1 854.5C782.8 856 783.5 857.5 784.2 859C784.9 860.5 785.6 862 786.3 863.6C787 865.1 787.7 866.6 788.5 868.1C789.2 869.6 789.9 871.1 790.6 872.6C791.4 874.1 792.1 875.6 792.8 877C793.6 878.5 794.4 880 795.1 881.5C795.9 882.9 796.7 884.4 797.5 885.9C798.3 887.3 799.1 888.8 799.9 890.2C800.7 891.6 801.6 893.1 802.4 894.5C803.3 895.9 804.1 897.3 805 898.7C805.9 900.1 806.8 901.5 807.8 902.9C808.7 904.3 809.6 905.6 810.6 907C811.5 908.4 812.5 909.7 813.5 911.1C814.5 912.4 815.5 913.7 816.5 915.1C817.5 916.4 818.5 917.8 819.4 919.1C820.4 920.5 821.4 921.8 822.3 923.2C823.3 924.5 824.2 925.9 825.1 927.3C826 928.7 826.9 930.1 827.8 931.5C828.6 932.9 829.5 934.4 830.3 935.8C831.1 937.3 831.9 938.7 832.7 940.2C833.5 941.6 834.3 943.1 835 944.6C835.8 946.1 836.5 947.6 837.2 949.1C838 950.6 838.7 952.1 839.4 953.6C840.1 955.1 840.8 956.6 841.5 958.1C842.2 959.7 842.9 961.2 843.5 962.7C844.2 964.2 844.9 965.8 845.5 967.3C846.2 968.8 846.9 970.4 847.5 971.9C848.2 973.5 848.8 975 849.4 976.6C850.1 978.1 850.7 979.7 851.4 981.2C852 982.8 852.6 984.3 853.3 985.9C853.9 987.4 854.5 989 855.2 990.5C855.8 992.1 856.4 993.6 857.1 995.2C857.7 996.7 858.3 998.3 859 999.8C859.6 1001.4 860.2 1002.9 860.9 1004.5C861.5 1006 862.2 1007.6 862.8 1009.1C863.5 1010.7 864.1 1012.2 864.8 1013.7C865.5 1015.3 866.1 1016.8 866.8 1018.3C867.5 1019.8 868.2 1021.4 868.9 1022.9C869.6 1024.4 870.3 1025.9 871 1027.4C871.7 1028.9 872.4 1030.4 873.1 1031.9C873.9 1033.4 874.6 1034.9 875.4 1036.3C876.1 1037.8 876.9 1039.3 877.7 1040.7C878.4 1042.2 879.2 1043.7 880 1045.1C880.8 1046.6 881.7 1048 882.5 1049.4C883.3 1050.8 884.2 1052.3 885.1 1053.7C885.9 1055.1 886.8 1056.5 887.7 1057.8C888.6 1059.2 889.6 1060.6 890.5 1062C891.4 1063.3 892.4 1064.7 893.4 1066C894.4 1067.4 895.4 1068.7 896.4 1070C897.4 1071.3 898.5 1072.6 899.5 1073.9C900.6 1075.2 902.3 1077.1 902.8 1077.7" stroke="#ff0000" stroke-width="9.3"/><path d="M222.2 1012.6C223 1012.8 225.4 1013.4 227 1013.9C228.6 1014.4 230.2 1014.9 231.9 1015.4C233.5 1015.9 235.1 1016.4 236.8 1016.9C238.4 1017.3 240 1017.8 241.7 1018.2C243.3 1018.6 244.9 1019 246.6 1019.3C248.2 1019.6 249.8 1019.8 251.5 1019.9C253.1 1020.1 254.7 1020.1 256.3 1020C258 1020 259.6 1019.8 261.2 1019.5C262.8 1019.2 264.4 1018.8 266 1018.4C267.5 1017.9 269.1 1017.4 270.7 1016.8C272.2 1016.2 273.7 1015.5 275.3 1014.8C276.8 1014 278.3 1013.2 279.8 1012.4C281.2 1011.6 282.7 1010.7 284.1 1009.8C285.6 1008.8 287 1007.9 288.4 1006.9C289.8 1006 291.2 1005 292.6 1003.9C294 1002.9 295.3 1001.9 296.7 1000.9C298.1 999.9 299.4 998.8 300.8 997.8C302.2 996.8 303.5 995.7 304.9 994.7C306.3 993.7 307.6 992.7 309 991.7C310.4 990.7 311.8 989.8 313.2 988.8C314.6 987.9 316 987 317.4 986.1C318.9 985.3 320.3 984.4 321.8 983.7C323.2 982.9 324.7 982.2 326.3 981.5C327.8 980.9 329.3 980.2 330.9 979.7C332.5 979.2 334.1 978.7 335.7 978.3C337.3 977.9 339 977.6 340.6 977.4C342.2 977.3 343.9 977.2 345.5 977.2C347.1 977.2 348.7 977.4 350.3 977.7C351.9 978 353.4 978.4 354.9 979C356.4 979.6 357.9 980.3 359.4 981.1C360.8 981.8 362.3 982.8 363.7 983.7C365.1 984.7 366.4 985.8 367.8 986.9C369.1 988 370.4 989.2 371.7 990.4C372.9 991.6 374.2 992.9 375.4 994.1C376.6 995.4 377.8 996.6 379 997.9C380.1 999.2 381.3 1000.4 382.4 1001.7C383.5 1003 384.6 1004.2 385.7 1005.5C386.8 1006.7 387.8 1008 388.9 1009.2C390 1010.5 391.1 1011.7 392.2 1013C393.3 1014.2 394.4 1015.4 395.5 1016.7C396.6 1017.9 397.7 1019.1 398.9 1020.4C400 1021.6 401.1 1022.8 402.3 1024C403.5 1025.2 404.6 1026.4 405.8 1027.6C407 1028.8 408.1 1030 409.3 1031.2C410.5 1032.3 411.7 1033.5 412.9 1034.7C414.2 1035.8 415.4 1037 416.6 1038.1C417.9 1039.2 419.1 1040.3 420.4 1041.4C421.6 1042.5 422.9 1043.6 424.2 1044.7C425.5 1045.8 426.8 1046.8 428.1 1047.9C429.4 1048.9 430.7 1050 432.1 1051C433.4 1052 434.8 1053 436.1 1054C437.5 1055 438.8 1055.9 440.2 1056.9C441.6 1057.8 443 1058.8 444.4 1059.7C445.8 1060.6 447.2 1061.5 448.6 1062.4C450 1063.3 451.5 1064.2 452.9 1065C454.4 1065.9 455.8 1066.7 457.3 1067.6C458.7 1068.4 460.2 1069.2 461.7 1070C463.2 1070.8 464.6 1071.5 466.1 1072.3C467.6 1073 469.1 1073.8 470.7 1074.5C472.2 1075.2 473.7 1075.9 475.2 1076.6C476.7 1077.3 478.3 1077.9 479.8 1078.6C481.4 1079.2 482.9 1079.8 484.5 1080.5C486 1081.1 487.6 1081.6 489.2 1082.2C490.7 1082.8 492.3 1083.3 493.9 1083.8C495.5 1084.4 497.1 1084.9 498.7 1085.4C500.3 1085.9 501.9 1086.4 503.5 1086.8C505.1 1087.3 506.7 1087.7 508.3 1088.2C509.9 1088.6 511.5 1089.1 513.1 1089.5C514.8 1089.9 516.4 1090.3 518 1090.7C519.6 1091.2 521.2 1091.6 522.9 1092C524.5 1092.4 526.1 1092.8 527.7 1093.2C529.4 1093.6 531 1094 532.6 1094.4C534.3 1094.8 535.9 1095.2 537.5 1095.6C539.1 1096 540.7 1096.5 542.4 1096.9C544 1097.3 545.6 1097.7 547.2 1098.2C548.8 1098.6 550.4 1099.1 552 1099.5C553.7 1100 555.3 1100.4 556.9 1100.9C558.5 1101.3 560.1 1101.8 561.7 1102.2C563.3 1102.7 564.9 1103.1 566.5 1103.6C568.2 1104 569.8 1104.5 571.4 1104.9C573 1105.4 574.6 1105.8 576.2 1106.3C577.8 1106.7 579.4 1107.2 581.1 1107.6C582.7 1108 584.3 1108.4 585.9 1108.9C587.6 1109.3 589.2 1109.7 590.8 1110.1C592.4 1110.5 594.1 1110.9 595.7 1111.3C597.3 1111.7 599 1112.1 600.6 1112.5C602.2 1113 603.8 1113.4 605.5 1113.8C607.1 1114.2 608.7 1114.7 610.3 1115.1C611.9 1115.6 613.5 1116 615.1 1116.5C616.7 1117 618.3 1117.5 619.9 1118C621.5 1118.5 623.1 1119.1 624.7 1119.7C626.2 1120.2 627.8 1120.8 629.3 1121.4C630.9 1122 632.4 1122.7 634 1123.3C635.5 1124 637 1124.7 638.6 1125.4C640.1 1126 641.6 1126.7 643.1 1127.4C644.7 1128.1 646.2 1128.8 647.7 1129.5C649.2 1130.2 650.8 1130.9 652.3 1131.6C653.8 1132.3 655.3 1132.9 656.9 1133.6C658.4 1134.2 660 1134.9 661.5 1135.5C663.1 1136 664.7 1136.6 666.2 1137.2C667.8 1137.7 669.4 1138.2 671 1138.7C672.6 1139.2 674.2 1139.7 675.8 1140.2C677.4 1140.6 679 1141 680.7 1141.5C682.3 1141.9 683.9 1142.3 685.5 1142.6C687.2 1143 688.8 1143.4 690.5 1143.7C692.1 1144.1 693.8 1144.4 695.4 1144.7C697.1 1145 698.7 1145.3 700.4 1145.6C702 1145.9 703.7 1146.2 705.4 1146.5C707 1146.8 708.7 1147 710.4 1147.3C712 1147.6 713.7 1147.8 715.4 1148.1C717 1148.3 718.7 1148.6 720.4 1148.8C722 1149.1 723.7 1149.3 725.3 1149.5C727 1149.8 728.7 1150 730.3 1150.3C732 1150.5 733.6 1150.8 735.3 1151C736.9 1151.3 738.6 1151.5 740.2 1151.8C741.9 1152 743.5 1152.3 745.1 1152.5C746.8 1152.8 748.4 1153.1 750 1153.4C751.7 1153.6 753.3 1153.9 754.9 1154.2C756.6 1154.5 758.2 1154.8 759.8 1155.1C761.4 1155.4 763.1 1155.7 764.7 1156C766.3 1156.3 768 1156.6 769.6 1156.9C771.2 1157.2 772.9 1157.6 774.5 1157.9C776.1 1158.2 777.8 1158.6 779.4 1158.9C781 1159.3 782.7 1159.6 784.3 1160C786 1160.3 787.6 1160.7 789.3 1161C790.9 1161.4 792.6 1161.7 794.2 1162.1C795.8 1162.4 797.5 1162.7 799.1 1163.1C800.8 1163.4 802.5 1163.7 804.1 1164.1C805.8 1164.4 807.4 1164.7 809.1 1165C810.7 1165.3 812.4 1165.6 814 1165.9C815.7 1166.2 817.4 1166.4 819 1166.7C820.7 1166.9 822.3 1167.2 824 1167.4C825.7 1167.6 827.3 1167.8 829 1168C830.7 1168.2 832.3 1168.3 834 1168.4C835.7 1168.6 837.3 1168.7 839 1168.8C840.7 1168.8 842.3 1168.9 844 1168.9C845.7 1169 847.3 1169 849 1168.9C850.7 1168.9 852.3 1168.8 854 1168.7C855.7 1168.6 857.3 1168.5 859 1168.3C860.7 1168.2 862.3 1168 864 1167.7C865.7 1167.5 867.3 1167.2 869 1166.9C870.7 1166.6 873.2 1166 874 1165.8 M874 1165.8C875.5 1164.8 880.6 1160.4 883 1159.5C885.4 1158.6 886.6 1159.1 888.4 1160.4C890.2 1161.8 892.3 1167.4 893.8 1167.6C895.3 1167.8 895.9 1162 897.4 1161.3C898.9 1160.5 901.9 1162.8 902.8 1163.1" stroke="#008000" stroke-width="9.3"/><path d="M1054.5 1153C1055.3 1153.2 1057.8 1153.8 1059.4 1154.1C1061.1 1154.5 1062.7 1154.8 1064.3 1155C1066 1155.3 1067.6 1155.5 1069.3 1155.7C1071 1155.9 1072.6 1156 1074.3 1156.1C1075.9 1156.2 1077.6 1156.3 1079.2 1156.3C1080.9 1156.4 1082.5 1156.4 1084.2 1156.3C1085.9 1156.3 1087.5 1156.2 1089.2 1156.1C1090.8 1156 1092.5 1155.9 1094.1 1155.7C1095.8 1155.5 1097.4 1155.3 1099.1 1155.1C1100.7 1154.9 1102.4 1154.6 1104 1154.3C1105.7 1154 1107.3 1153.7 1108.9 1153.3C1110.6 1153 1112.2 1152.6 1113.8 1152.2C1115.5 1151.8 1117.1 1151.3 1118.7 1150.8C1120.3 1150.4 1121.9 1149.9 1123.5 1149.4C1125.1 1148.8 1126.7 1148.3 1128.3 1147.7C1129.9 1147.2 1131.5 1146.6 1133.1 1145.9C1134.6 1145.3 1136.2 1144.7 1137.7 1144C1139.3 1143.4 1140.9 1142.7 1142.4 1142C1143.9 1141.3 1145.5 1140.5 1147 1139.8C1148.5 1139 1150 1138.3 1151.5 1137.5C1153 1136.7 1154.5 1135.9 1156 1135.1C1157.4 1134.2 1158.9 1133.4 1160.3 1132.6C1161.8 1131.7 1163.2 1130.8 1164.6 1129.9C1166.1 1129 1167.5 1128.1 1168.9 1127.2C1170.3 1126.3 1171.6 1125.4 1173 1124.4C1174.4 1123.5 1175.7 1122.5 1177.1 1121.6C1178.4 1120.6 1179.7 1119.6 1181 1118.6C1182.3 1117.6 1183.6 1116.6 1184.9 1115.6C1186.1 1114.6 1187.4 1113.6 1188.6 1112.5C1189.9 1111.5 1191.1 1110.5 1192.3 1109.4C1193.5 1108.4 1194.7 1107.3 1195.9 1106.2C1197.1 1105.2 1198.3 1104.1 1199.5 1103C1200.7 1101.9 1201.9 1100.8 1203 1099.7C1204.2 1098.6 1205.4 1097.5 1206.6 1096.3C1207.8 1095.2 1208.9 1094.1 1210.1 1092.9C1211.3 1091.8 1212.5 1090.6 1213.7 1089.5C1214.9 1088.3 1216.1 1087.2 1217.3 1086C1218.5 1084.8 1219.8 1083.6 1221 1082.4C1222.3 1081.2 1223.5 1080 1224.8 1078.8C1226.1 1077.6 1227.4 1076.4 1228.7 1075.1C1230 1073.9 1231.3 1072.7 1232.7 1071.5C1234 1070.3 1235.4 1069.1 1236.8 1067.9C1238.1 1066.7 1239.5 1065.6 1240.9 1064.5C1242.3 1063.4 1243.8 1062.3 1245.2 1061.3C1246.6 1060.3 1248.1 1059.4 1249.5 1058.5C1251 1057.6 1252.5 1056.8 1253.9 1056.1C1255.4 1055.4 1256.9 1054.7 1258.4 1054.2C1259.9 1053.6 1261.4 1053.2 1262.9 1052.8C1264.4 1052.5 1265.9 1052.3 1267.4 1052.1C1269 1052 1270.5 1051.9 1272 1052C1273.5 1052 1275.1 1052.2 1276.6 1052.4C1278.1 1052.6 1279.7 1052.9 1281.2 1053.2C1282.7 1053.6 1284.3 1054 1285.8 1054.5C1287.3 1055 1288.9 1055.6 1290.4 1056.2C1291.9 1056.8 1293.4 1057.5 1295 1058.2C1296.5 1058.9 1298 1059.6 1299.5 1060.4C1301 1061.2 1302.5 1062.1 1304 1062.9C1305.5 1063.8 1307 1064.7 1308.4 1065.6C1309.9 1066.5 1311.4 1067.4 1312.8 1068.4C1314.3 1069.3 1315.7 1070.2 1317.2 1071.2C1318.6 1072.2 1320 1073.1 1321.4 1074.1C1322.8 1075.1 1324.2 1076.1 1325.6 1077C1327 1078 1328.4 1079 1329.7 1080C1331.1 1081 1332.5 1082 1333.8 1083C1335.2 1084 1336.6 1085 1337.9 1086C1339.3 1087 1340.6 1088 1341.9 1089C1343.3 1090 1344.6 1091 1346 1092C1347.3 1093 1348.6 1094 1350 1095C1351.3 1096 1352.6 1097 1354 1098C1355.3 1099 1356.6 1099.9 1358 1100.9C1359.3 1101.9 1360.6 1102.9 1362 1103.8C1363.3 1104.8 1364.7 1105.7 1366 1106.7C1367.4 1107.6 1368.7 1108.6 1370.1 1109.5C1371.4 1110.4 1372.8 1111.3 1374.1 1112.2C1375.5 1113.1 1376.9 1114 1378.3 1114.9C1379.7 1115.8 1381.1 1116.7 1382.5 1117.5C1383.9 1118.4 1385.3 1119.2 1386.7 1120C1388.1 1120.8 1389.6 1121.6 1391 1122.4C1392.5 1123.2 1393.9 1124 1395.4 1124.7C1396.9 1125.5 1398.3 1126.2 1399.8 1126.9C1401.3 1127.6 1402.8 1128.3 1404.4 1129C1405.9 1129.7 1407.4 1130.3 1408.9 1131C1410.5 1131.6 1412 1132.3 1413.6 1132.9C1415.2 1133.5 1416.7 1134.1 1418.3 1134.6C1419.9 1135.2 1421.5 1135.8 1423.1 1136.3C1424.6 1136.9 1426.2 1137.4 1427.9 1137.9C1429.5 1138.4 1431.1 1138.9 1432.7 1139.4C1434.3 1139.9 1436 1140.4 1437.6 1140.8C1439.2 1141.3 1440.9 1141.7 1442.5 1142.1C1444.1 1142.5 1445.8 1142.9 1447.4 1143.3C1449.1 1143.7 1450.7 1144.1 1452.4 1144.5C1454.1 1144.9 1455.7 1145.2 1457.4 1145.6C1459.1 1145.9 1460.7 1146.2 1462.4 1146.5C1464.1 1146.8 1465.7 1147.1 1467.4 1147.4C1469.1 1147.7 1470.7 1148 1472.4 1148.3C1474.1 1148.5 1475.7 1148.8 1477.4 1149C1479.1 1149.3 1480.7 1149.5 1482.4 1149.7C1484.1 1149.9 1485.7 1150.1 1487.4 1150.3C1489.1 1150.5 1490.7 1150.7 1492.4 1150.9C1494 1151.1 1495.7 1151.2 1497.3 1151.4C1499 1151.5 1500.6 1151.7 1502.3 1151.8C1503.9 1151.9 1505.6 1152.1 1507.2 1152.2C1508.8 1152.3 1510.5 1152.4 1512.1 1152.5C1513.7 1152.6 1515.4 1152.6 1517 1152.7C1518.6 1152.8 1520.3 1152.8 1521.9 1152.9C1523.5 1152.9 1525.2 1152.9 1526.8 1152.9C1528.4 1152.9 1530.1 1152.9 1531.7 1152.9C1533.4 1152.9 1535 1152.9 1536.7 1152.8C1538.4 1152.7 1540 1152.7 1541.7 1152.6C1543.4 1152.5 1545 1152.4 1546.7 1152.3C1548.4 1152.2 1550.1 1152.1 1551.8 1152C1553.5 1151.9 1555.2 1151.9 1556.8 1151.9C1558.5 1151.9 1560.2 1151.9 1561.9 1152.1C1563.5 1152.2 1565.2 1152.4 1566.8 1152.6C1568.5 1152.8 1570.1 1153.1 1571.8 1153.4C1573.4 1153.7 1575 1154 1576.7 1154.4C1578.3 1154.7 1579.9 1155.1 1581.5 1155.5C1583.2 1155.8 1584.8 1156.2 1586.4 1156.6C1588 1156.9 1589.6 1157.3 1591.3 1157.6C1592.9 1158 1594.5 1158.3 1596.2 1158.5C1597.8 1158.8 1599.4 1159 1601.1 1159.2C1602.7 1159.4 1604.4 1159.5 1606 1159.6C1607.7 1159.7 1609.3 1159.8 1611 1159.9C1612.7 1160 1614.3 1160 1616 1160.1C1617.6 1160.1 1619.3 1160.1 1621 1160.2C1622.6 1160.2 1624.3 1160.3 1626 1160.3C1627.6 1160.4 1629.3 1160.5 1631 1160.6C1632.6 1160.7 1634.3 1160.8 1635.9 1160.9C1637.6 1161 1639.3 1161.1 1640.9 1161.3C1642.6 1161.4 1644.2 1161.6 1645.9 1161.7C1647.6 1161.9 1649.2 1162.1 1650.9 1162.3C1652.5 1162.4 1654.2 1162.6 1655.9 1162.8C1657.5 1163 1659.2 1163.2 1660.8 1163.4C1662.5 1163.6 1664.1 1163.9 1665.8 1164.1C1667.5 1164.3 1669.1 1164.5 1670.8 1164.8C1672.4 1165 1674.1 1165.2 1675.7 1165.4C1677.4 1165.7 1679 1165.9 1680.7 1166.1C1682.4 1166.4 1684 1166.6 1685.7 1166.9C1687.3 1167.1 1689 1167.3 1690.6 1167.6C1692.3 1167.8 1693.9 1168 1695.6 1168.3C1697.3 1168.5 1698.9 1168.7 1700.6 1168.9C1702.2 1169.1 1703.9 1169.4 1705.5 1169.6C1707.2 1169.8 1708.9 1170 1710.5 1170.1C1712.2 1170.3 1713.8 1170.4 1715.5 1170.4C1717.1 1170.5 1718.7 1170.5 1720.4 1170.4C1722 1170.3 1723.6 1170.2 1725.3 1169.9C1726.9 1169.6 1729.3 1169 1730.1 1168.8" stroke="#000000" stroke-width="8.8"/><path d="M1054.2 431.6C1054.3 432.4 1054.6 434.9 1054.8 436.5C1055 438.2 1055.2 439.8 1055.4 441.5C1055.6 443.1 1055.8 444.7 1056 446.4C1056.2 448 1056.3 449.7 1056.5 451.3C1056.7 453 1056.9 454.6 1057.1 456.3C1057.3 457.9 1057.4 459.6 1057.6 461.2C1057.8 462.9 1058 464.5 1058.2 466.2C1058.3 467.8 1058.5 469.5 1058.7 471.1C1058.9 472.8 1059 474.5 1059.2 476.1C1059.4 477.8 1059.6 479.4 1059.7 481.1C1059.9 482.7 1060.1 484.4 1060.2 486.1C1060.4 487.7 1060.6 489.4 1060.7 491C1060.9 492.7 1061.1 494.4 1061.2 496C1061.4 497.7 1061.6 499.3 1061.7 501C1061.9 502.7 1062.1 504.3 1062.2 506C1062.4 507.7 1062.5 509.3 1062.7 511C1062.9 512.6 1063 514.3 1063.2 516C1063.4 517.6 1063.5 519.3 1063.7 521C1063.8 522.6 1064 524.3 1064.2 526C1064.3 527.6 1064.5 529.3 1064.7 531C1064.8 532.6 1065 534.3 1065.1 536C1065.3 537.6 1065.5 539.3 1065.6 541C1065.8 542.6 1066 544.3 1066.1 546C1066.3 547.6 1066.5 549.3 1066.6 551C1066.8 552.6 1067 554.3 1067.1 556C1067.3 557.6 1067.5 559.3 1067.6 561C1067.8 562.6 1068 564.3 1068.1 566C1068.3 567.7 1068.5 569.3 1068.7 571C1068.8 572.7 1069 574.3 1069.2 576C1069.4 577.7 1069.5 579.3 1069.7 581C1069.9 582.7 1070.1 584.3 1070.3 586C1070.4 587.7 1070.6 589.3 1070.8 591C1071 592.7 1071.2 594.3 1071.4 596C1071.5 597.7 1071.7 599.3 1071.9 601C1072.1 602.6 1072.3 604.3 1072.5 606C1072.7 607.6 1072.9 609.3 1073.1 611C1073.3 612.6 1073.5 614.3 1073.7 616C1073.9 617.6 1074.1 619.3 1074.3 620.9C1074.5 622.6 1074.7 624.3 1075 625.9C1075.2 627.6 1075.4 629.2 1075.6 630.9C1075.8 632.6 1076 634.2 1076.3 635.9C1076.5 637.5 1076.7 639.2 1076.9 640.8C1077.2 642.5 1077.4 644.2 1077.6 645.8C1077.9 647.5 1078.1 649.1 1078.4 650.8C1078.6 652.4 1078.8 654.1 1079.1 655.7C1079.3 657.4 1079.6 659 1079.8 660.7C1080.1 662.3 1080.4 664 1080.6 665.6C1080.9 667.3 1081.1 668.9 1081.4 670.6C1081.7 672.2 1081.9 673.9 1082.2 675.5C1082.5 677.1 1082.8 678.8 1083.1 680.4C1083.3 682.1 1083.6 683.7 1083.9 685.4C1084.2 687 1084.5 688.6 1084.8 690.3C1085.1 691.9 1085.4 693.5 1085.7 695.2C1086 696.8 1086.3 698.5 1086.6 700.1C1086.9 701.7 1087.3 703.3 1087.6 705C1087.9 706.6 1088.2 708.2 1088.6 709.9C1088.9 711.5 1089.2 713.1 1089.6 714.7C1089.9 716.4 1090.3 718 1090.6 719.6C1091 721.2 1091.3 722.9 1091.7 724.5C1092 726.1 1092.4 727.7 1092.8 729.3C1093.1 731 1093.5 732.6 1093.9 734.2C1094.3 735.8 1094.7 737.4 1095 739C1095.4 740.6 1095.8 742.2 1096.2 743.8C1096.6 745.4 1097 747.1 1097.4 748.7C1097.9 750.3 1098.3 751.9 1098.7 753.5C1099.1 755.1 1099.5 756.7 1100 758.3C1100.4 759.9 1100.9 761.5 1101.3 763C1101.7 764.6 1102.2 766.2 1102.7 767.8C1103.1 769.4 1103.6 771 1104 772.6C1104.5 774.2 1105 775.8 1105.5 777.3C1105.9 778.9 1106.4 780.5 1106.9 782.1C1107.4 783.7 1107.9 785.2 1108.4 786.8C1108.9 788.4 1109.4 790 1110 791.5C1110.5 793.1 1111 794.7 1111.5 796.2C1112.1 797.8 1112.6 799.4 1113.2 800.9C1113.7 802.5 1114.3 804.1 1114.8 805.6C1115.4 807.2 1116 808.7 1116.5 810.3C1117.1 811.8 1117.7 813.4 1118.3 814.9C1118.9 816.5 1119.5 818.1 1120.1 819.6C1120.7 821.2 1121.3 822.7 1121.9 824.3C1122.5 825.8 1123.2 827.3 1123.8 828.9C1124.5 830.4 1125.1 832 1125.8 833.5C1126.4 835.1 1127.1 836.6 1127.8 838.2C1128.5 839.7 1129.1 841.2 1129.8 842.8C1130.5 844.3 1131.2 845.9 1132 847.4C1132.7 848.9 1133.4 850.5 1134.1 852C1134.9 853.6 1135.6 855.1 1136.4 856.6C1137.1 858.2 1137.9 859.7 1138.7 861.3C1139.4 862.8 1140.2 864.3 1141 865.9C1141.8 867.4 1142.6 869 1143.5 870.5C1144.3 872 1145.1 873.6 1146 875.1C1146.8 876.6 1147.7 878.2 1148.6 879.7C1149.4 881.2 1150.3 882.7 1151.2 884.2C1152.1 885.6 1153.1 887.1 1154 888.5C1155 890 1155.9 891.4 1156.9 892.8C1157.9 894.2 1158.9 895.5 1159.9 896.9C1161 898.2 1162 899.5 1163.1 900.7C1164.2 902 1165.3 903.2 1166.4 904.3C1167.5 905.5 1168.7 906.6 1169.9 907.7C1171 908.7 1172.2 909.8 1173.5 910.7C1174.7 911.7 1176 912.6 1177.3 913.4C1178.6 914.2 1179.9 915 1181.3 915.7C1182.7 916.4 1184.1 917.1 1185.5 917.6C1186.9 918.2 1188.4 918.7 1189.9 919.1C1191.4 919.5 1192.9 919.9 1194.5 920.1C1196.1 920.4 1197.7 920.6 1199.3 920.8C1200.9 920.9 1202.6 921 1204.3 921C1205.9 921.1 1207.6 921 1209.4 921C1211.1 920.9 1212.8 920.8 1214.5 920.6C1216.3 920.5 1218 920.3 1219.8 920.1C1221.5 919.9 1223.3 919.6 1225 919.4C1226.8 919.1 1228.6 918.8 1230.3 918.6C1232.1 918.3 1233.8 918 1235.6 917.7C1237.3 917.3 1239 917 1240.7 916.7C1242.4 916.4 1244.2 916.1 1245.8 915.8C1247.5 915.5 1249.2 915.2 1250.8 915C1252.4 914.7 1254.1 914.5 1255.7 914.3C1257.3 914.1 1258.8 913.9 1260.4 913.8C1262 913.7 1263.5 913.7 1265 913.7C1266.6 913.8 1268.1 913.9 1269.6 914.1C1271.1 914.3 1272.6 914.6 1274.1 915C1275.6 915.4 1277.1 915.9 1278.6 916.6C1280 917.2 1281.5 918 1283 918.8C1284.4 919.7 1285.9 920.6 1287.3 921.6C1288.7 922.5 1290.2 923.6 1291.6 924.6C1293 925.6 1294.3 926.6 1295.7 927.7C1297.1 928.7 1298.4 929.7 1299.7 930.8C1301.1 931.8 1302.4 932.9 1303.7 934C1305 935 1306.3 936.1 1307.6 937.2C1308.9 938.3 1310.1 939.3 1311.4 940.4C1312.7 941.5 1313.9 942.6 1315.2 943.7C1316.5 944.8 1317.7 945.8 1319 946.9C1320.2 948 1321.5 949.1 1322.7 950.2C1324 951.3 1325.2 952.3 1326.5 953.4C1327.8 954.5 1329 955.6 1330.3 956.6C1331.5 957.7 1332.8 958.7 1334.1 959.8C1335.4 960.8 1336.7 961.9 1338 962.9C1339.3 964 1340.6 965 1341.9 966C1343.2 967 1344.6 968 1345.9 969C1347.3 970 1348.6 971 1350 971.9C1351.4 972.9 1352.8 973.8 1354.2 974.8C1355.6 975.7 1357 976.6 1358.5 977.5C1359.9 978.4 1361.3 979.3 1362.8 980.1C1364.2 981 1365.7 981.8 1367.2 982.7C1368.7 983.5 1370.1 984.3 1371.6 985.1C1373.1 985.8 1374.7 986.6 1376.2 987.3C1377.7 988.1 1379.2 988.8 1380.7 989.4C1382.3 990.1 1383.8 990.8 1385.4 991.4C1386.9 992 1388.5 992.7 1390.1 993.2C1391.6 993.8 1393.2 994.4 1394.8 994.9C1396.4 995.4 1397.9 995.9 1399.5 996.3C1401.1 996.8 1402.7 997.2 1404.3 997.6C1405.9 998 1407.5 998.4 1409.1 998.8C1410.8 999.1 1412.4 999.5 1414 999.8C1415.6 1000.1 1417.2 1000.4 1418.9 1000.7C1420.5 1001 1422.1 1001.3 1423.8 1001.5C1425.4 1001.8 1427 1002 1428.7 1002.3C1430.3 1002.5 1432 1002.8 1433.6 1003C1435.2 1003.3 1436.9 1003.5 1438.5 1003.7C1440.2 1004 1441.8 1004.2 1443.5 1004.5C1445.1 1004.7 1446.8 1005 1448.4 1005.2C1450 1005.5 1451.7 1005.8 1453.3 1006.1C1455 1006.3 1456.6 1006.6 1458.3 1006.9C1459.9 1007.2 1461.5 1007.5 1463.2 1007.9C1464.8 1008.2 1466.5 1008.5 1468.1 1008.9C1469.7 1009.2 1471.3 1009.6 1473 1009.9C1474.6 1010.3 1476.2 1010.7 1477.8 1011.1C1479.5 1011.5 1481.1 1011.9 1482.7 1012.4C1484.3 1012.8 1485.9 1013.3 1487.5 1013.7C1489.1 1014.2 1490.7 1014.7 1492.2 1015.2C1493.8 1015.7 1495.4 1016.2 1497 1016.7C1498.6 1017.2 1500.2 1017.7 1501.7 1018.2C1503.3 1018.7 1504.9 1019.2 1506.5 1019.6C1508.1 1020 1509.7 1020.4 1511.4 1020.7C1513 1021.1 1514.6 1021.3 1516.3 1021.6C1517.9 1021.8 1519.6 1022 1521.2 1022.1C1522.9 1022.3 1524.6 1022.4 1526.2 1022.5C1527.9 1022.7 1529.6 1022.8 1531.2 1022.9C1532.9 1023.1 1534.6 1023.2 1536.2 1023.4C1537.9 1023.6 1539.5 1023.8 1541.1 1024.1C1542.7 1024.3 1544.3 1024.6 1545.9 1025C1547.5 1025.4 1549.1 1025.9 1550.6 1026.4C1552.1 1026.9 1553.6 1027.6 1555.1 1028.3C1556.6 1029 1558.1 1029.7 1559.5 1030.6C1561 1031.4 1562.4 1032.2 1563.8 1033.1C1565.3 1034 1566.7 1034.9 1568.1 1035.8C1569.6 1036.7 1571 1037.6 1572.4 1038.5C1573.9 1039.4 1575.3 1040.2 1576.7 1041.1C1578.2 1042 1579.6 1042.8 1581.1 1043.7C1582.5 1044.5 1584 1045.4 1585.4 1046.2C1586.9 1047 1588.3 1047.8 1589.8 1048.7C1591.2 1049.5 1592.7 1050.3 1594.2 1051.1C1595.6 1051.9 1597.1 1052.7 1598.6 1053.5C1600 1054.3 1601.5 1055.1 1603 1055.9C1604.5 1056.6 1605.9 1057.4 1607.4 1058.2C1608.9 1059 1610.4 1059.7 1611.9 1060.5C1613.3 1061.3 1614.8 1062 1616.3 1062.8C1617.8 1063.5 1619.3 1064.3 1620.8 1065C1622.3 1065.8 1623.8 1066.5 1625.3 1067.2C1626.8 1068 1628.2 1068.7 1629.7 1069.5C1631.2 1070.2 1632.7 1070.9 1634.2 1071.7C1635.7 1072.4 1637.2 1073.1 1638.7 1073.8C1640.2 1074.6 1641.7 1075.3 1643.2 1076C1644.7 1076.7 1646.2 1077.5 1647.7 1078.2C1649.2 1078.9 1650.7 1079.6 1652.2 1080.4C1653.7 1081.1 1655.2 1081.8 1656.7 1082.5C1658.2 1083.2 1659.7 1084 1661.2 1084.7C1662.7 1085.4 1664.2 1086.1 1665.7 1086.8C1667.2 1087.6 1668.7 1088.3 1670.2 1089C1671.7 1089.7 1673.2 1090.5 1674.7 1091.2C1676.2 1091.9 1677.7 1092.6 1679.2 1093.4C1680.7 1094.1 1682.2 1094.8 1683.7 1095.6C1685.2 1096.3 1686.7 1097 1688.2 1097.8C1689.7 1098.5 1691.2 1099.3 1692.7 1100C1694.1 1100.8 1695.6 1101.5 1697.1 1102.3C1698.6 1103 1700.1 1103.8 1701.6 1104.5C1703 1105.3 1704.5 1106 1706 1106.8C1707.5 1107.6 1708.9 1108.4 1710.4 1109.1C1711.9 1109.9 1713.4 1110.7 1714.8 1111.5C1716.3 1112.3 1717.8 1113.1 1719.2 1113.9C1720.7 1114.6 1722.1 1115.4 1723.6 1116.3C1725 1117.1 1726.5 1117.9 1727.9 1118.7C1729.4 1119.5 1730.8 1120.3 1732.3 1121.2C1733.7 1122 1735.9 1123.3 1736.6 1123.7" stroke="#0000ff" stroke-width="9.3"/><path d="M1054.2 412.3C1054.9 412.8 1057 414.2 1058.3 415.2C1059.6 416.2 1060.9 417.3 1062.2 418.3C1063.5 419.4 1064.7 420.5 1065.9 421.6C1067.1 422.8 1068.3 423.9 1069.5 425.1C1070.6 426.3 1071.7 427.5 1072.8 428.8C1073.9 430 1075 431.3 1076 432.6C1077.1 433.9 1078.1 435.2 1079.1 436.6C1080.1 437.9 1081 439.2 1082 440.6C1082.9 442 1083.9 443.4 1084.8 444.8C1085.7 446.2 1086.5 447.7 1087.4 449.1C1088.3 450.5 1089.1 452 1089.9 453.5C1090.7 454.9 1091.6 456.4 1092.3 457.9C1093.1 459.4 1093.9 460.9 1094.7 462.4C1095.4 463.9 1096.2 465.4 1096.9 466.9C1097.6 468.4 1098.3 470 1099 471.5C1099.7 473 1100.4 474.5 1101.1 476.1C1101.8 477.6 1102.5 479.1 1103.1 480.7C1103.8 482.2 1104.4 483.8 1105.1 485.3C1105.7 486.8 1106.3 488.4 1107 489.9C1107.6 491.5 1108.2 493 1108.8 494.6C1109.4 496.1 1110 497.7 1110.6 499.3C1111.2 500.8 1111.8 502.4 1112.3 503.9C1112.9 505.5 1113.5 507.1 1114.1 508.6C1114.6 510.2 1115.2 511.7 1115.8 513.3C1116.3 514.9 1116.9 516.4 1117.4 518C1118 519.6 1118.5 521.2 1119.1 522.7C1119.6 524.3 1120.2 525.9 1120.7 527.4C1121.3 529 1121.8 530.6 1122.3 532.2C1122.9 533.7 1123.4 535.3 1124 536.9C1124.5 538.5 1125.1 540 1125.6 541.6C1126.2 543.2 1126.7 544.8 1127.2 546.3C1127.8 547.9 1128.3 549.5 1128.9 551.1C1129.4 552.6 1130 554.2 1130.5 555.8C1131.1 557.4 1131.6 558.9 1132.2 560.5C1132.7 562.1 1133.3 563.7 1133.8 565.2C1134.4 566.8 1134.9 568.4 1135.5 570C1136 571.5 1136.6 573.1 1137.2 574.7C1137.7 576.3 1138.3 577.8 1138.8 579.4C1139.4 581 1140 582.5 1140.5 584.1C1141.1 585.7 1141.7 587.2 1142.3 588.8C1142.8 590.4 1143.4 591.9 1144 593.5C1144.6 595.1 1145.2 596.6 1145.8 598.2C1146.3 599.8 1146.9 601.3 1147.5 602.9C1148.1 604.5 1148.7 606 1149.3 607.6C1149.9 609.1 1150.5 610.7 1151.1 612.2C1151.8 613.8 1152.4 615.3 1153 616.9C1153.6 618.4 1154.2 620 1154.9 621.5C1155.5 623.1 1156.1 624.6 1156.8 626.2C1157.4 627.7 1158.1 629.3 1158.7 630.8C1159.4 632.4 1160 633.9 1160.7 635.4C1161.3 637 1162 638.5 1162.7 640C1163.4 641.6 1164 643.1 1164.7 644.6C1165.4 646.1 1166.1 647.7 1166.8 649.2C1167.5 650.7 1168.2 652.2 1168.9 653.7C1169.6 655.2 1170.3 656.8 1171.1 658.3C1171.8 659.8 1172.5 661.3 1173.3 662.8C1174 664.3 1174.8 665.8 1175.5 667.3C1176.3 668.8 1177.1 670.3 1177.8 671.7C1178.6 673.2 1179.4 674.7 1180.3 676.1C1181.1 677.6 1181.9 679 1182.8 680.5C1183.6 681.9 1184.5 683.3 1185.4 684.7C1186.3 686.1 1187.2 687.5 1188.2 688.8C1189.1 690.2 1190.1 691.5 1191.1 692.9C1192.1 694.2 1193.1 695.5 1194.2 696.7C1195.3 698 1196.4 699.3 1197.5 700.5C1198.6 701.7 1199.7 702.9 1200.9 704.1C1202.1 705.3 1203.3 706.5 1204.5 707.6C1205.7 708.8 1206.9 709.9 1208.1 711C1209.4 712.2 1210.7 713.3 1211.9 714.3C1213.2 715.4 1214.5 716.5 1215.8 717.6C1217.1 718.6 1218.4 719.6 1219.8 720.7C1221.1 721.7 1222.4 722.7 1223.8 723.7C1225.1 724.7 1226.5 725.7 1227.8 726.7C1229.2 727.7 1230.6 728.6 1231.9 729.6C1233.3 730.6 1234.7 731.5 1236 732.5C1237.4 733.5 1238.8 734.4 1240.1 735.4C1241.5 736.4 1242.8 737.3 1244.2 738.3C1245.5 739.3 1246.9 740.3 1248.2 741.3C1249.6 742.2 1250.9 743.2 1252.2 744.3C1253.5 745.3 1254.8 746.3 1256.1 747.4C1257.4 748.4 1258.7 749.5 1260 750.6C1261.2 751.7 1262.5 752.8 1263.7 753.9C1264.9 755.1 1266.1 756.2 1267.3 757.4C1268.5 758.6 1269.7 759.8 1270.9 761.1C1272 762.3 1273.2 763.6 1274.3 764.8C1275.4 766.1 1276.6 767.4 1277.7 768.6C1278.8 769.9 1279.9 771.2 1281.1 772.5C1282.2 773.7 1283.3 775 1284.5 776.2C1285.6 777.5 1286.7 778.7 1287.9 779.9C1289.1 781.2 1290.2 782.3 1291.4 783.5C1292.6 784.7 1293.8 785.8 1295 786.9C1296.3 788 1297.5 789 1298.8 790C1300.1 791.1 1301.4 792 1302.7 792.9C1304.1 793.8 1305.5 794.7 1306.9 795.5C1308.3 796.3 1309.7 797.1 1311.1 797.8C1312.6 798.6 1314.1 799.2 1315.5 799.9C1317 800.5 1318.6 801.1 1320.1 801.6C1321.6 802.2 1323.2 802.7 1324.8 803.1C1326.3 803.6 1327.9 804 1329.5 804.3C1331.1 804.7 1332.7 805 1334.4 805.3C1336 805.6 1337.7 805.8 1339.3 806C1341 806.2 1342.6 806.4 1344.3 806.5C1346 806.6 1347.7 806.7 1349.3 806.7C1351 806.8 1352.7 806.8 1354.4 806.7C1356.1 806.7 1357.8 806.6 1359.5 806.5C1361.2 806.4 1362.9 806.3 1364.6 806.2C1366.3 806 1368 805.8 1369.7 805.6C1371.3 805.5 1373 805.2 1374.7 805C1376.4 804.8 1378 804.5 1379.7 804.2C1381.3 804 1383 803.7 1384.6 803.4C1386.2 803.1 1387.8 802.8 1389.4 802.5C1391.1 802.2 1392.7 801.9 1394.3 801.6C1395.9 801.3 1397.5 801 1399.1 800.7C1400.7 800.4 1402.3 800.1 1403.9 799.8C1405.5 799.6 1407.1 799.3 1408.7 799.1C1410.4 798.8 1412 798.6 1413.6 798.4C1415.3 798.2 1416.9 798 1418.6 797.9C1420.2 797.7 1421.9 797.6 1423.6 797.5C1425.3 797.4 1427 797.4 1428.7 797.3C1430.3 797.3 1432.1 797.2 1433.8 797.3C1435.5 797.3 1437.2 797.3 1438.9 797.4C1440.6 797.4 1442.3 797.5 1444 797.6C1445.7 797.7 1447.4 797.9 1449.1 798.1C1450.8 798.2 1452.6 798.4 1454.2 798.7C1455.9 798.9 1457.6 799.1 1459.3 799.4C1461 799.7 1462.7 800 1464.4 800.4C1466 800.7 1467.7 801.1 1469.4 801.5C1471 801.9 1472.7 802.3 1474.3 802.7C1475.9 803.2 1477.5 803.7 1479.1 804.2C1480.7 804.7 1482.3 805.2 1483.9 805.8C1485.4 806.4 1487 807 1488.5 807.6C1490 808.2 1491.5 808.9 1493 809.6C1494.5 810.3 1496 811 1497.5 811.7C1498.9 812.4 1500.4 813.2 1501.8 814C1503.2 814.8 1504.6 815.6 1506 816.5C1507.4 817.3 1508.8 818.2 1510.1 819C1511.5 819.9 1512.8 820.9 1514.2 821.8C1515.5 822.7 1516.8 823.7 1518.1 824.7C1519.4 825.6 1520.7 826.6 1522 827.7C1523.3 828.7 1524.5 829.7 1525.8 830.8C1527 831.8 1528.3 832.9 1529.5 834C1530.7 835.1 1531.9 836.2 1533.1 837.3C1534.3 838.5 1535.5 839.6 1536.7 840.8C1537.9 841.9 1539.1 843.1 1540.2 844.3C1541.4 845.5 1542.5 846.7 1543.7 847.9C1544.8 849.1 1545.9 850.4 1547 851.6C1548.1 852.9 1549.3 854.1 1550.4 855.4C1551.5 856.6 1552.5 857.9 1553.6 859.2C1554.7 860.5 1555.8 861.8 1556.9 863.1C1557.9 864.4 1559 865.7 1560 867.1C1561.1 868.4 1562.1 869.7 1563.2 871.1C1564.2 872.4 1565.2 873.7 1566.3 875.1C1567.3 876.4 1568.3 877.8 1569.3 879.2C1570.4 880.5 1571.4 881.9 1572.4 883.3C1573.4 884.6 1574.4 886 1575.4 887.4C1576.4 888.8 1577.4 890.1 1578.4 891.5C1579.4 892.9 1580.3 894.3 1581.3 895.6C1582.3 897 1583.3 898.4 1584.3 899.8C1585.3 901.2 1586.2 902.5 1587.2 903.9C1588.2 905.3 1589.2 906.7 1590.1 908C1591.1 909.4 1592.1 910.8 1593 912.2C1594 913.5 1595 914.9 1595.9 916.3C1596.9 917.6 1597.9 919 1598.8 920.4C1599.8 921.8 1600.7 923.1 1601.7 924.5C1602.6 925.9 1603.6 927.2 1604.5 928.6C1605.5 930 1606.4 931.3 1607.4 932.7C1608.3 934.1 1609.2 935.5 1610.2 936.8C1611.1 938.2 1612 939.6 1612.9 941C1613.9 942.3 1614.8 943.7 1615.7 945.1C1616.6 946.5 1617.5 947.9 1618.4 949.2C1619.4 950.6 1620.3 952 1621.2 953.4C1622.1 954.8 1623 956.2 1623.9 957.6C1624.7 958.9 1625.6 960.3 1626.5 961.7C1627.4 963.1 1628.3 964.5 1629.1 965.9C1630 967.3 1630.9 968.8 1631.8 970.2C1632.6 971.6 1633.5 973 1634.3 974.4C1635.2 975.8 1636 977.2 1636.9 978.7C1637.7 980.1 1638.5 981.5 1639.4 983C1640.2 984.4 1641 985.8 1641.9 987.3C1642.7 988.7 1643.5 990.2 1644.3 991.6C1645.1 993.1 1645.9 994.5 1646.7 996C1647.5 997.4 1648.3 998.9 1649.1 1000.4C1649.8 1001.9 1650.6 1003.3 1651.4 1004.8C1652.2 1006.3 1652.9 1007.8 1653.7 1009.3C1654.4 1010.8 1655.2 1012.3 1655.9 1013.8C1656.7 1015.3 1657.4 1016.8 1658.2 1018.3C1658.9 1019.8 1659.7 1021.3 1660.4 1022.9C1661.1 1024.4 1661.9 1025.9 1662.6 1027.4C1663.3 1028.9 1664.1 1030.4 1664.8 1032C1665.6 1033.5 1666.3 1035 1667 1036.5C1667.8 1038 1668.5 1039.5 1669.3 1041.1C1670 1042.6 1670.8 1044.1 1671.6 1045.6C1672.3 1047.1 1673.1 1048.6 1673.9 1050.1C1674.6 1051.6 1675.4 1053 1676.2 1054.5C1677 1056 1677.8 1057.5 1678.6 1059C1679.4 1060.4 1680.2 1061.9 1681 1063.3C1681.9 1064.8 1682.7 1066.2 1683.6 1067.7C1684.4 1069.1 1685.3 1070.5 1686.1 1072C1687 1073.4 1687.9 1074.8 1688.8 1076.2C1689.7 1077.6 1690.7 1078.9 1691.6 1080.3C1692.5 1081.7 1693.5 1083 1694.5 1084.4C1695.4 1085.7 1696.4 1087.1 1697.4 1088.4C1698.4 1089.7 1699.5 1091 1700.5 1092.3C1701.6 1093.5 1702.6 1094.8 1703.7 1096.1C1704.8 1097.3 1705.9 1098.5 1707.1 1099.7C1708.2 1101 1709.4 1102.2 1710.6 1103.3C1711.8 1104.5 1713.6 1106.2 1714.2 1106.8 M1714.2 1106.8C1715 1110.4 1717.6 1127 1718.9 1128.5C1720.2 1130 1720.7 1118.4 1722 1116C1723.3 1113.6 1725.4 1107.5 1727 1114C1728.6 1120.5 1730.2 1154.3 1731.5 1155C1732.8 1155.7 1733.7 1125.3 1734.5 1118C1735.3 1110.7 1736 1112.2 1736.3 1111" stroke="#800080" stroke-width="9.3"/><path d="M1133.2 51.4C1133.3 52.2 1133.6 54.7 1133.8 56.4C1134.1 58 1134.3 59.7 1134.5 61.4C1134.7 63 1134.9 64.7 1135.1 66.3C1135.3 68 1135.6 69.6 1135.8 71.3C1136 73 1136.2 74.6 1136.4 76.3C1136.7 77.9 1136.9 79.6 1137.1 81.3C1137.3 82.9 1137.5 84.6 1137.8 86.2C1138 87.9 1138.2 89.5 1138.4 91.2C1138.6 92.9 1138.9 94.5 1139.1 96.2C1139.3 97.8 1139.5 99.5 1139.8 101.1C1140 102.8 1140.2 104.5 1140.4 106.1C1140.7 107.8 1140.9 109.4 1141.1 111.1C1141.4 112.7 1141.6 114.4 1141.8 116.1C1142 117.7 1142.3 119.4 1142.5 121C1142.7 122.7 1143 124.3 1143.2 126C1143.4 127.6 1143.7 129.3 1143.9 131C1144.1 132.6 1144.4 134.3 1144.6 135.9C1144.8 137.6 1145.1 139.2 1145.3 140.9C1145.6 142.5 1145.8 144.2 1146 145.8C1146.3 147.5 1146.5 149.2 1146.7 150.8C1147 152.5 1147.2 154.1 1147.5 155.8C1147.7 157.4 1148 159.1 1148.2 160.7C1148.4 162.4 1148.7 164 1148.9 165.7C1149.2 167.3 1149.4 169 1149.7 170.6C1149.9 172.3 1150.2 174 1150.4 175.6C1150.7 177.3 1150.9 178.9 1151.2 180.6C1151.4 182.2 1151.7 183.9 1151.9 185.5C1152.2 187.2 1152.4 188.8 1152.7 190.5C1152.9 192.1 1153.2 193.8 1153.4 195.4C1153.7 197.1 1153.9 198.7 1154.2 200.4C1154.5 202 1154.7 203.7 1155 205.3C1155.2 207 1155.5 208.6 1155.7 210.3C1156 211.9 1156.3 213.6 1156.5 215.2C1156.8 216.9 1157.1 218.5 1157.3 220.2C1157.6 221.8 1157.8 223.5 1158.1 225.1C1158.4 226.8 1158.6 228.4 1158.9 230.1C1159.2 231.7 1159.5 233.4 1159.7 235C1160 236.7 1160.3 238.3 1160.5 240C1160.8 241.6 1161.1 243.3 1161.3 244.9C1161.6 246.6 1161.9 248.2 1162.2 249.9C1162.4 251.5 1162.7 253.2 1163 254.8C1163.3 256.5 1163.6 258.1 1163.8 259.8C1164.1 261.4 1164.4 263.1 1164.7 264.7C1164.9 266.4 1165.2 268 1165.5 269.7C1165.8 271.3 1166.1 272.9 1166.4 274.6C1166.6 276.2 1166.9 277.9 1167.2 279.5C1167.5 281.2 1167.8 282.8 1168.1 284.5C1168.4 286.1 1168.7 287.8 1169 289.4C1169.2 291.1 1169.5 292.7 1169.8 294.3C1170.1 296 1170.4 297.6 1170.7 299.3C1171 300.9 1171.3 302.6 1171.6 304.2C1171.9 305.9 1172.2 307.5 1172.5 309.1C1172.8 310.8 1173.1 312.4 1173.4 314.1C1173.7 315.7 1174 317.4 1174.3 319C1174.6 320.7 1174.9 322.3 1175.2 323.9C1175.5 325.6 1175.8 327.2 1176.1 328.9C1176.4 330.5 1176.7 332.2 1177.1 333.8C1177.4 335.4 1177.7 337.1 1178 338.7C1178.3 340.4 1178.6 342 1178.9 343.7C1179.2 345.3 1179.6 346.9 1179.9 348.6C1180.2 350.2 1180.5 351.9 1180.8 353.5C1181.1 355.1 1181.5 356.8 1181.8 358.4C1182.1 360.1 1182.4 361.7 1182.8 363.3C1183.1 365 1183.4 366.6 1183.7 368.3C1184.1 369.9 1184.4 371.5 1184.7 373.2C1185.1 374.8 1185.4 376.5 1185.7 378.1C1186.1 379.7 1186.4 381.4 1186.7 383C1187.1 384.7 1187.4 386.3 1187.8 387.9C1188.1 389.6 1188.4 391.2 1188.8 392.8C1189.1 394.5 1189.5 396.1 1189.8 397.7C1190.2 399.4 1190.5 401 1190.9 402.7C1191.2 404.3 1191.6 405.9 1191.9 407.6C1192.3 409.2 1192.7 410.8 1193 412.5C1193.4 414.1 1193.7 415.7 1194.1 417.4C1194.5 419 1194.8 420.6 1195.2 422.3C1195.6 423.9 1195.9 425.5 1196.3 427.1C1196.7 428.8 1197.1 430.4 1197.4 432C1197.8 433.7 1198.2 435.3 1198.6 436.9C1199 438.6 1199.3 440.2 1199.7 441.8C1200.1 443.4 1200.5 445.1 1200.9 446.7C1201.3 448.3 1201.7 449.9 1202.1 451.6C1202.5 453.2 1202.9 454.8 1203.3 456.4C1203.7 458.1 1204.1 459.7 1204.5 461.3C1204.9 462.9 1205.3 464.6 1205.7 466.2C1206.1 467.8 1206.6 469.4 1207 471C1207.4 472.7 1207.8 474.3 1208.2 475.9C1208.7 477.5 1209.1 479.1 1209.5 480.8C1210 482.4 1210.4 484 1210.9 485.6C1211.3 487.2 1211.8 488.8 1212.2 490.4C1212.7 492 1213.1 493.6 1213.6 495.2C1214.1 496.8 1214.5 498.4 1215 500C1215.5 501.6 1216 503.2 1216.5 504.8C1217 506.4 1217.5 508 1218 509.6C1218.6 511.2 1219.1 512.8 1219.6 514.3C1220.2 515.9 1220.7 517.5 1221.3 519C1221.8 520.6 1222.4 522.2 1223 523.7C1223.6 525.3 1224.2 526.8 1224.8 528.4C1225.4 529.9 1226 531.5 1226.6 533C1227.2 534.5 1227.9 536.1 1228.5 537.6C1229.2 539.1 1229.9 540.6 1230.6 542.2C1231.2 543.7 1231.9 545.2 1232.7 546.7C1233.4 548.2 1234.1 549.7 1234.9 551.1C1235.6 552.6 1236.4 554.1 1237.1 555.6C1237.9 557 1238.7 558.5 1239.5 560C1240.3 561.4 1241.2 562.9 1242 564.3C1242.9 565.7 1243.7 567.2 1244.6 568.6C1245.5 570 1246.4 571.4 1247.3 572.8C1248.3 574.2 1249.2 575.6 1250.2 577C1251.1 578.4 1252.1 579.8 1253.1 581.2C1254.1 582.5 1255.1 583.9 1256.2 585.2C1257.2 586.5 1258.3 587.9 1259.4 589.2C1260.4 590.5 1261.5 591.8 1262.7 593C1263.8 594.3 1264.9 595.6 1266.1 596.8C1267.2 598 1268.4 599.2 1269.6 600.4C1270.8 601.6 1272 602.7 1273.2 603.9C1274.4 605 1275.7 606.1 1276.9 607.2C1278.2 608.3 1279.4 609.3 1280.7 610.3C1282 611.4 1283.3 612.4 1284.6 613.3C1285.9 614.3 1287.3 615.3 1288.6 616.3C1289.9 617.3 1291.2 618.2 1292.6 619.2C1293.9 620.1 1295.3 621.1 1296.6 622.1C1297.9 623.1 1299.3 624 1300.6 625C1301.9 626 1303.3 627 1304.6 628C1306 629 1307.3 630 1308.7 631C1310 632 1311.4 632.9 1312.8 633.9C1314.2 634.8 1315.6 635.8 1317.1 636.7C1318.5 637.6 1320 638.5 1321.4 639.3C1322.9 640.1 1324.5 641 1326 641.7C1327.6 642.5 1329.2 643.2 1330.8 643.9C1332.4 644.5 1334 645.1 1335.7 645.7C1337.3 646.2 1339 646.7 1340.6 647.1C1342.2 647.5 1343.9 647.8 1345.5 648C1347.1 648.2 1348.8 648.3 1350.3 648.3C1351.9 648.3 1353.5 648.2 1355.1 648.1C1356.6 647.9 1358.2 647.7 1359.7 647.3C1361.3 647 1362.8 646.6 1364.3 646.1C1365.8 645.7 1367.3 645.1 1368.8 644.5C1370.3 643.9 1371.7 643.3 1373.2 642.6C1374.7 641.8 1376.1 641.1 1377.6 640.3C1379.1 639.5 1380.5 638.6 1382 637.8C1383.4 636.9 1384.8 636 1386.3 635C1387.7 634.1 1389.2 633.1 1390.6 632.2C1392 631.2 1393.5 630.2 1394.9 629.2C1396.4 628.2 1397.8 627.2 1399.2 626.2C1400.7 625.2 1402.1 624.1 1403.6 623.2C1405 622.2 1406.5 621.2 1407.9 620.2C1409.4 619.2 1410.8 618.3 1412.3 617.3C1413.8 616.4 1415.2 615.5 1416.7 614.6C1418.2 613.7 1419.7 612.9 1421.2 612.1C1422.6 611.3 1424.1 610.6 1425.6 609.8C1427.1 609.1 1428.6 608.5 1430.2 607.9C1431.7 607.3 1433.2 606.7 1434.7 606.3C1436.3 605.8 1437.8 605.4 1439.3 605.1C1440.9 604.7 1442.5 604.5 1444 604.3C1445.6 604.1 1447.2 604 1448.8 604C1450.3 603.9 1451.9 604 1453.5 604.1C1455.1 604.2 1456.7 604.4 1458.3 604.6C1459.9 604.8 1461.5 605.1 1463.1 605.5C1464.7 605.8 1466.3 606.2 1467.9 606.7C1469.5 607.1 1471 607.7 1472.6 608.2C1474.2 608.8 1475.8 609.4 1477.3 610.1C1478.9 610.7 1480.4 611.4 1482 612.2C1483.5 612.9 1485 613.7 1486.5 614.5C1488 615.3 1489.5 616.2 1491 617C1492.4 617.9 1493.9 618.8 1495.3 619.8C1496.8 620.7 1498.2 621.7 1499.5 622.7C1500.9 623.7 1502.3 624.7 1503.6 625.7C1505 626.8 1506.3 627.8 1507.6 628.9C1508.9 630 1510.2 631.1 1511.4 632.2C1512.7 633.3 1513.9 634.5 1515.1 635.6C1516.3 636.8 1517.5 638 1518.7 639.2C1519.9 640.4 1521.1 641.6 1522.2 642.8C1523.3 644 1524.4 645.3 1525.5 646.5C1526.6 647.8 1527.7 649 1528.8 650.3C1529.9 651.6 1530.9 652.9 1531.9 654.2C1533 655.5 1534 656.8 1535 658.2C1536 659.5 1537 660.8 1537.9 662.2C1538.9 663.5 1539.8 664.9 1540.8 666.3C1541.7 667.6 1542.6 669 1543.5 670.4C1544.4 671.8 1545.3 673.2 1546.2 674.6C1547.1 676 1548 677.4 1548.8 678.8C1549.7 680.2 1550.5 681.7 1551.3 683.1C1552.2 684.5 1553 686 1553.8 687.4C1554.6 688.9 1555.4 690.3 1556.2 691.8C1557 693.2 1557.8 694.7 1558.5 696.2C1559.3 697.7 1560.1 699.2 1560.8 700.6C1561.6 702.1 1562.3 703.6 1563.1 705.1C1563.8 706.6 1564.5 708.1 1565.2 709.6C1566 711.1 1566.7 712.6 1567.4 714.1C1568.1 715.7 1568.8 717.2 1569.5 718.7C1570.2 720.2 1570.9 721.7 1571.6 723.3C1572.3 724.8 1573 726.3 1573.6 727.9C1574.3 729.4 1575 730.9 1575.7 732.5C1576.3 734 1577 735.5 1577.7 737.1C1578.4 738.6 1579 740.2 1579.7 741.7C1580.4 743.2 1581 744.8 1581.7 746.3C1582.4 747.9 1583 749.4 1583.7 750.9C1584.4 752.5 1585 754 1585.7 755.6C1586.4 757.1 1587 758.7 1587.7 760.2C1588.4 761.7 1589 763.3 1589.7 764.8C1590.4 766.3 1591.1 767.9 1591.7 769.4C1592.4 770.9 1593.1 772.5 1593.8 774C1594.5 775.5 1595.2 777 1595.9 778.6C1596.6 780.1 1597.3 781.6 1598 783.1C1598.7 784.6 1599.4 786.2 1600.1 787.7C1600.8 789.2 1601.5 790.7 1602.2 792.2C1602.9 793.7 1603.6 795.2 1604.3 796.7C1605.1 798.2 1605.8 799.8 1606.5 801.3C1607.2 802.8 1608 804.3 1608.7 805.8C1609.4 807.3 1610.1 808.8 1610.9 810.3C1611.6 811.8 1612.3 813.3 1613 814.8C1613.8 816.3 1614.5 817.8 1615.2 819.3C1616 820.8 1616.7 822.3 1617.4 823.8C1618.2 825.3 1618.9 826.7 1619.7 828.2C1620.4 829.7 1621.1 831.2 1621.9 832.7C1622.6 834.2 1623.3 835.7 1624.1 837.2C1624.8 838.7 1625.6 840.2 1626.3 841.7C1627 843.2 1627.8 844.7 1628.5 846.2C1629.3 847.7 1630 849.2 1630.7 850.7C1631.5 852.2 1632.2 853.7 1632.9 855.1C1633.7 856.6 1634.4 858.1 1635.1 859.6C1635.9 861.1 1636.6 862.6 1637.3 864.1C1638.1 865.6 1638.8 867.1 1639.5 868.6C1640.3 870.1 1641 871.6 1641.7 873.1C1642.4 874.6 1643.2 876.1 1643.9 877.7C1644.6 879.2 1645.3 880.7 1646.1 882.2C1646.8 883.7 1647.5 885.2 1648.2 886.7C1648.9 888.2 1649.6 889.7 1650.4 891.2C1651.1 892.7 1651.8 894.3 1652.5 895.8C1653.2 897.3 1653.9 898.8 1654.6 900.3C1655.3 901.8 1656 903.4 1656.7 904.9C1657.4 906.4 1658.1 907.9 1658.8 909.4C1659.5 910.9 1660.2 912.5 1660.9 914C1661.6 915.5 1662.3 917 1663 918.5C1663.7 920.1 1664.4 921.6 1665.1 923.1C1665.8 924.6 1666.5 926.1 1667.2 927.7C1667.9 929.2 1668.6 930.7 1669.3 932.2C1670 933.8 1670.7 935.3 1671.4 936.8C1672.1 938.3 1672.8 939.9 1673.4 941.4C1674.1 942.9 1674.8 944.4 1675.5 945.9C1676.2 947.5 1676.9 949 1677.6 950.5C1678.3 952 1679 953.6 1679.6 955.1C1680.3 956.6 1681 958.1 1681.7 959.7C1682.4 961.2 1683.1 962.7 1683.8 964.2C1684.4 965.8 1685.1 967.3 1685.8 968.8C1686.5 970.3 1687.2 971.8 1687.9 973.4C1688.6 974.9 1689.2 976.4 1689.9 977.9C1690.6 979.4 1691.3 981 1692 982.5C1692.7 984 1693.3 985.5 1694 987C1694.7 988.6 1695.4 990.1 1696.1 991.6C1696.8 993.1 1697.5 994.6 1698.1 996.1C1698.8 997.7 1699.5 999.2 1700.2 1000.7C1700.9 1002.2 1701.6 1003.7 1702.2 1005.3C1702.9 1006.8 1703.6 1008.3 1704.3 1009.8C1705 1011.3 1705.6 1012.9 1706.3 1014.4C1707 1015.9 1707.7 1017.4 1708.3 1019C1709 1020.5 1709.7 1022 1710.4 1023.5C1711 1025.1 1711.7 1026.6 1712.4 1028.1C1713.1 1029.7 1713.7 1031.2 1714.4 1032.7C1715.1 1034.3 1715.7 1035.8 1716.4 1037.3C1717.1 1038.9 1717.7 1040.4 1718.4 1042C1719.1 1043.5 1719.7 1045 1720.4 1046.6C1721 1048.1 1721.7 1049.7 1722.3 1051.2C1722.9 1052.8 1723.5 1054.4 1724.1 1055.9C1724.7 1057.5 1725.3 1059 1725.9 1060.6C1726.4 1062.2 1726.9 1063.8 1727.4 1065.4C1727.9 1066.9 1728.4 1068.5 1728.8 1070.1C1729.2 1071.7 1729.6 1073.3 1730 1074.9C1730.3 1076.5 1730.6 1078.1 1730.9 1079.8C1731.2 1081.4 1731.4 1083 1731.6 1084.7C1731.7 1086.3 1731.8 1088 1731.9 1089.6C1731.9 1091.3 1732 1092.9 1731.9 1094.6C1731.8 1096.3 1731.7 1098 1731.5 1099.7C1731.3 1101.4 1731.1 1103.1 1730.7 1104.8C1730.4 1106.5 1729.7 1109.1 1729.5 1110" stroke="#ff0000" stroke-width="9.3"/><path d="M1053.8 739.8C1053.9 740.6 1054.3 743.1 1054.6 744.7C1054.9 746.3 1055.2 748 1055.5 749.6C1055.7 751.3 1056 752.9 1056.3 754.5C1056.6 756.2 1056.9 757.8 1057.2 759.5C1057.5 761.1 1057.8 762.8 1058.1 764.4C1058.4 766.1 1058.7 767.7 1059 769.3C1059.3 771 1059.6 772.6 1060 774.3C1060.3 775.9 1060.6 777.6 1060.9 779.2C1061.3 780.9 1061.6 782.5 1061.9 784.2C1062.3 785.8 1062.6 787.5 1063 789.1C1063.3 790.8 1063.6 792.4 1064 794C1064.4 795.7 1064.7 797.3 1065.1 799C1065.4 800.6 1065.8 802.3 1066.2 803.9C1066.5 805.6 1066.9 807.2 1067.3 808.8C1067.7 810.5 1068.1 812.1 1068.5 813.8C1068.8 815.4 1069.2 817 1069.6 818.7C1070 820.3 1070.4 822 1070.8 823.6C1071.3 825.2 1071.7 826.9 1072.1 828.5C1072.5 830.1 1072.9 831.7 1073.4 833.4C1073.8 835 1074.2 836.6 1074.7 838.3C1075.1 839.9 1075.5 841.5 1076 843.1C1076.4 844.7 1076.9 846.4 1077.4 848C1077.8 849.6 1078.3 851.2 1078.7 852.8C1079.2 854.4 1079.7 856 1080.2 857.6C1080.7 859.3 1081.1 860.9 1081.6 862.5C1082.1 864.1 1082.6 865.7 1083.1 867.3C1083.6 868.9 1084.1 870.4 1084.6 872C1085.2 873.6 1085.7 875.2 1086.2 876.8C1086.7 878.4 1087.3 880 1087.8 881.5C1088.3 883.1 1088.9 884.7 1089.4 886.3C1090 887.8 1090.5 889.4 1091.1 890.9C1091.7 892.5 1092.2 894.1 1092.8 895.6C1093.4 897.2 1094 898.7 1094.5 900.3C1095.1 901.8 1095.7 903.4 1096.3 904.9C1096.9 906.4 1097.6 908 1098.2 909.5C1098.8 911 1099.5 912.6 1100.1 914.1C1100.8 915.6 1101.4 917.1 1102.1 918.6C1102.8 920.1 1103.5 921.6 1104.2 923.2C1104.9 924.7 1105.6 926.2 1106.3 927.6C1107 929.1 1107.8 930.6 1108.6 932.1C1109.3 933.6 1110.1 935.1 1110.9 936.5C1111.7 938 1112.5 939.5 1113.4 940.9C1114.2 942.4 1115.1 943.9 1116 945.3C1116.9 946.8 1117.8 948.2 1118.7 949.6C1119.6 951.1 1120.6 952.5 1121.5 953.9C1122.5 955.4 1123.5 956.8 1124.5 958.2C1125.6 959.6 1126.6 961 1127.7 962.4C1128.7 963.8 1129.8 965.1 1131 966.4C1132.1 967.8 1133.3 969.1 1134.4 970.3C1135.6 971.6 1136.8 972.8 1138.1 974C1139.3 975.1 1140.6 976.2 1141.9 977.3C1143.2 978.4 1144.5 979.4 1145.8 980.3C1147.2 981.2 1148.6 982.1 1150 982.9C1151.4 983.7 1152.9 984.4 1154.4 985.1C1155.8 985.7 1157.4 986.3 1158.9 986.7C1160.5 987.2 1162.1 987.6 1163.7 987.9C1165.3 988.1 1166.9 988.3 1168.6 988.4C1170.2 988.6 1171.9 988.6 1173.6 988.5C1175.2 988.5 1176.9 988.4 1178.6 988.2C1180.3 988 1182 987.7 1183.6 987.3C1185.3 987 1187 986.6 1188.6 986.1C1190.2 985.6 1191.8 985.1 1193.4 984.5C1195 983.9 1196.6 983.2 1198.1 982.5C1199.6 981.8 1201.1 981 1202.5 980.2C1204 979.4 1205.3 978.5 1206.7 977.6C1208 976.7 1209.3 975.7 1210.6 974.7C1211.9 973.7 1213.1 972.6 1214.3 971.6C1215.5 970.5 1216.6 969.4 1217.8 968.2C1218.9 967.1 1220 965.9 1221.1 964.7C1222.3 963.5 1223.3 962.3 1224.4 961C1225.5 959.8 1226.6 958.5 1227.6 957.2C1228.7 955.9 1229.8 954.6 1230.8 953.3C1231.9 952 1233 950.7 1234.1 949.3C1235.2 948 1236.3 946.7 1237.4 945.3C1238.5 944 1239.6 942.6 1240.8 941.3C1241.9 940 1243.1 938.6 1244.3 937.3C1245.5 936 1246.8 934.7 1248.1 933.4C1249.3 932.1 1250.6 930.8 1251.9 929.6C1253.2 928.4 1254.6 927.2 1255.9 926C1257.3 924.9 1258.6 923.8 1260 922.7C1261.4 921.7 1262.8 920.7 1264.2 919.8C1265.7 918.9 1267.1 918.1 1268.5 917.3C1270 916.6 1271.5 915.9 1272.9 915.3C1274.4 914.7 1275.9 914.3 1277.3 913.9C1278.8 913.5 1280.3 913.3 1281.8 913.1C1283.3 913 1284.8 913 1286.3 913.1C1287.8 913.2 1289.3 913.4 1290.8 913.7C1292.3 914.1 1293.8 914.5 1295.3 915C1296.8 915.6 1298.3 916.2 1299.7 917C1301.2 917.7 1302.6 918.5 1304 919.4C1305.5 920.3 1306.9 921.3 1308.2 922.3C1309.6 923.4 1311 924.5 1312.3 925.6C1313.6 926.8 1314.9 928 1316.1 929.3C1317.4 930.5 1318.6 931.8 1319.8 933.1C1320.9 934.5 1322.1 935.8 1323.1 937.2C1324.2 938.6 1325.3 940 1326.2 941.4C1327.2 942.8 1328.2 944.2 1329.1 945.7C1329.9 947.1 1330.8 948.6 1331.6 950C1332.4 951.5 1333.2 952.9 1334 954.4C1334.8 955.9 1335.5 957.3 1336.2 958.8C1336.9 960.3 1337.6 961.8 1338.3 963.3C1339 964.8 1339.7 966.3 1340.4 967.8C1341.1 969.3 1341.8 970.8 1342.4 972.2C1343.1 973.7 1343.8 975.2 1344.5 976.7C1345.2 978.2 1345.9 979.7 1346.7 981.2C1347.4 982.7 1348.2 984.2 1349 985.7C1349.7 987.1 1350.5 988.6 1351.4 990.1C1352.2 991.5 1353 993 1353.9 994.5C1354.8 995.9 1355.7 997.4 1356.6 998.8C1357.5 1000.2 1358.4 1001.6 1359.4 1003.1C1360.3 1004.5 1361.3 1005.9 1362.2 1007.3C1363.2 1008.7 1364.2 1010 1365.2 1011.4C1366.3 1012.8 1367.3 1014.1 1368.3 1015.4C1369.4 1016.8 1370.4 1018.1 1371.5 1019.4C1372.6 1020.7 1373.7 1022 1374.8 1023.3C1375.9 1024.5 1377 1025.8 1378.1 1027C1379.2 1028.3 1380.4 1029.5 1381.5 1030.7C1382.7 1031.9 1383.8 1033 1385 1034.2C1386.2 1035.3 1387.4 1036.5 1388.6 1037.5C1389.9 1038.6 1391.1 1039.7 1392.4 1040.7C1393.7 1041.7 1395 1042.7 1396.3 1043.7C1397.7 1044.6 1399.1 1045.5 1400.5 1046.4C1401.9 1047.3 1403.4 1048.2 1404.8 1049C1406.2 1049.9 1407.7 1050.7 1409.1 1051.6C1410.6 1052.4 1412 1053.3 1413.4 1054.3C1414.8 1055.2 1416.2 1056.2 1417.5 1057.2C1418.9 1058.2 1420.2 1059.2 1421.5 1060.2C1422.8 1061.3 1424.1 1062.3 1425.4 1063.4C1426.7 1064.5 1428 1065.5 1429.3 1066.6C1430.5 1067.7 1431.8 1068.8 1433.1 1069.9C1434.4 1071 1435.6 1072.1 1436.9 1073.2C1438.2 1074.3 1439.5 1075.3 1440.8 1076.4C1442 1077.4 1443.3 1078.5 1444.7 1079.5C1446 1080.5 1447.3 1081.5 1448.7 1082.5C1450 1083.4 1451.4 1084.4 1452.8 1085.3C1454.2 1086.2 1455.6 1087.1 1457 1088C1458.4 1088.8 1459.8 1089.7 1461.2 1090.5C1462.7 1091.4 1464.1 1092.2 1465.5 1093C1467 1093.8 1468.5 1094.7 1469.9 1095.5C1471.4 1096.3 1472.9 1097 1474.3 1097.8C1475.8 1098.6 1477.3 1099.4 1478.8 1100.2C1480.2 1101 1481.7 1101.8 1483.2 1102.6C1484.7 1103.4 1486.1 1104.2 1487.6 1105C1489.1 1105.8 1490.6 1106.6 1492 1107.4C1493.5 1108.3 1495 1109.1 1496.4 1110C1497.9 1110.8 1499.3 1111.7 1500.8 1112.5C1502.2 1113.4 1503.7 1114.3 1505.1 1115.1C1506.6 1115.9 1508 1116.8 1509.5 1117.6C1510.9 1118.4 1512.4 1119.2 1513.9 1120C1515.4 1120.7 1516.9 1121.5 1518.4 1122.2C1519.9 1122.9 1521.4 1123.5 1522.9 1124.1C1524.5 1124.7 1526 1125.3 1527.6 1125.7C1529.2 1126.2 1530.8 1126.6 1532.4 1127C1534 1127.4 1535.7 1127.7 1537.3 1128C1539 1128.3 1540.6 1128.6 1542.3 1128.8C1543.9 1129.1 1545.6 1129.4 1547.2 1129.8C1548.9 1130.1 1550.5 1130.5 1552.1 1130.9C1553.7 1131.3 1555.3 1131.7 1556.9 1132.2C1558.5 1132.7 1560 1133.2 1561.6 1133.7C1563.2 1134.3 1564.7 1134.8 1566.3 1135.4C1567.9 1136 1569.4 1136.6 1570.9 1137.2C1572.5 1137.8 1574 1138.5 1575.6 1139.1C1577.1 1139.8 1578.6 1140.5 1580.2 1141.1C1581.7 1141.8 1583.2 1142.5 1584.8 1143.1C1586.3 1143.8 1587.8 1144.5 1589.4 1145.1C1590.9 1145.7 1592.5 1146.3 1594.1 1146.9C1595.6 1147.4 1597.2 1147.9 1598.8 1148.4C1600.5 1148.8 1602.1 1149.1 1603.7 1149.5C1605.4 1149.8 1607.1 1150 1608.7 1150.3C1610.4 1150.6 1612 1150.8 1613.7 1151.1C1615.3 1151.4 1616.9 1151.7 1618.5 1152.1C1620.1 1152.5 1621.7 1152.9 1623.2 1153.5C1624.7 1154 1626.2 1154.7 1627.6 1155.5C1629 1156.3 1630.3 1157.1 1631.6 1158.3C1632.9 1159.4 1634.6 1161.5 1635.2 1162.1" stroke="#008000" stroke-width="9.3"/><path d="M1055 1020C1055.5 1020.9 1056.3 1021.6 1058.2 1025.3C1060.1 1029 1063.8 1037.5 1066.6 1042C1069.4 1046.5 1072.2 1049.4 1075.1 1052.6C1078 1055.8 1081.1 1058.8 1083.9 1061.4C1086.7 1064 1090.5 1066.9 1091.8 1068" stroke="#000000" stroke-width="8.8"/><path d="M1120.7 1068.9C1122.6 1068.1 1129.4 1065.5 1132.1 1064C1134.8 1062.5 1134.9 1061.8 1137.1 1060C1139.3 1058.2 1142.4 1055.8 1145.3 1053.5C1148.2 1051.2 1150.6 1048.5 1154.6 1046C1158.6 1043.5 1167 1039.8 1169.5 1038.6" stroke="#000000" stroke-width="8.8"/><path d="M1196.7 1028.8C1198.3 1029 1203.6 1029.5 1206.1 1029.8C1208.6 1030.1 1209.3 1029.2 1211.7 1030.5C1214.1 1031.8 1216.7 1035.2 1220.6 1037.4C1224.5 1039.6 1230.7 1041.9 1235 1043.6C1239.3 1045.3 1243.6 1046.5 1246.6 1047.8C1249.6 1049.1 1251.9 1050.8 1253 1051.4" stroke="#000000" stroke-width="8.8"/><path d="M1272.3 1066.3C1274.3 1067.4 1280.9 1071 1284.3 1072.7C1287.7 1074.5 1288.3 1074.5 1292.6 1076.8C1296.9 1079.1 1304.9 1083.3 1310.2 1086.5C1315.5 1089.7 1321.9 1094.5 1324.2 1096.1" stroke="#000000" stroke-width="8.8"/><path d="M1347.9 1110.2C1350.4 1111.4 1357.4 1114.9 1362.8 1117.2C1368.2 1119.5 1373.2 1121.7 1380.4 1124.2C1387.6 1126.7 1401.7 1130.7 1406 1132" stroke="#000000" stroke-width="8.8"/><path d="M1432 1140C1436.7 1141.3 1450 1145.2 1460 1148C1470 1150.8 1486.7 1155.1 1492 1156.5" stroke="#000000" stroke-width="8.8"/><path d="M1516.5 1158.6C1521.2 1159.8 1536.9 1163.9 1545 1166C1553.1 1168.1 1558.9 1169.5 1565 1171C1571.1 1172.5 1579 1174.3 1581.8 1175" stroke="#000000" stroke-width="8.8"/><path d="M1609.2 1182.6C1611.6 1183.5 1619.1 1186.9 1623.4 1188.1C1627.7 1189.3 1630.6 1189.4 1635.2 1189.7C1639.8 1190 1645.1 1188.9 1651 1189.7C1656.9 1190.5 1667.5 1194 1670.8 1194.8" stroke="#000000" stroke-width="8.8"/><path d="M1696.8 1203.9C1698.9 1205.2 1706.5 1213 1709.4 1211.8C1712.3 1210.6 1713 1199.8 1714.2 1196.8C1715.4 1193.8 1715.5 1191.6 1716.5 1194C1717.5 1196.4 1719 1210.4 1720.5 1211C1722 1211.6 1724.1 1200 1725.2 1197.6C1726.3 1195.2 1726.7 1196.7 1727 1196.5" stroke="#000000" stroke-width="8.8"/><path d="M1054 174.5C1054.8 173.6 1057 170.3 1058.5 168.8C1060 167.3 1061.5 166.2 1063 165.5C1064.5 164.8 1066 164.5 1067.6 164.6C1069.2 164.7 1070.9 165 1072.5 165.8C1074.1 166.6 1075.6 168.1 1077 169.5C1078.4 170.9 1079.3 171.7 1081 174C1082.7 176.3 1085.5 180.2 1087.4 183.2C1089.3 186.2 1091 189.2 1092.6 191.9C1094.2 194.6 1096.3 198.2 1097 199.4" stroke="#ff0000" stroke-width="9.3"/><path d="M1110.2 228.8C1111.7 232.2 1116.1 241.6 1119 248.9C1121.9 256.2 1125.2 264.7 1127.7 272.6C1130.2 280.5 1133.2 292.4 1134.3 296.3" stroke="#ff0000" stroke-width="9.3"/><path d="M1144.8 328.9C1146.3 332.8 1151.3 345 1154 352.6C1156.7 360.2 1159 367.1 1161.1 374.6C1163.2 382.1 1165.8 393.6 1166.8 397.4" stroke="#ff0000" stroke-width="9.3"/><path d="M1176.1 428.9C1177.4 433.5 1181.7 448.1 1183.9 456.3C1186.1 464.5 1187.3 471.2 1189.1 478.2C1190.9 485.1 1193.6 494.7 1194.5 498" stroke="#ff0000" stroke-width="9.3"/><path d="M1202.8 528.1C1203.9 531.5 1207.5 542 1209.3 548.4C1211.1 554.8 1212.5 561.4 1213.7 566.2C1215 571.1 1215.1 572.1 1216.8 577.5C1218.5 582.9 1222.5 595 1223.7 598.5" stroke="#ff0000" stroke-width="9.3"/><path d="M1235.1 629.6C1236.1 632.6 1239.2 641.8 1241.4 647.7C1243.6 653.7 1245.9 659.7 1248.4 665.3C1250.9 670.9 1253.6 677 1256.3 681.1C1259 685.2 1263.2 688.3 1264.6 689.8" stroke="#ff0000" stroke-width="9.3"/><path d="M1284.7 705.3C1287.5 705.9 1295.7 709.1 1301.4 708.8C1307.1 708.5 1314.3 705.4 1319 703.5C1323.7 701.6 1325.8 700.4 1329.5 697.5C1333.2 694.6 1339.3 688.2 1341.3 686.3" stroke="#ff0000" stroke-width="9.3"/><path d="M1358.5 668.7C1360.2 666.6 1365.9 660.3 1368.9 656.3C1372 652.3 1374.3 648.5 1376.8 644.9C1379.3 641.2 1381.7 637.5 1383.9 634.4C1386.1 631.3 1387.7 628.8 1390 626.5C1392.3 624.2 1396.2 621.4 1397.5 620.4" stroke="#ff0000" stroke-width="9.3"/><path d="M1425.5 616C1427.3 614.8 1433.2 610.7 1436.5 608.9C1439.8 607.1 1441.6 605.4 1445.3 605.4C1449 605.4 1454.8 607.3 1458.4 608.9C1462.1 610.5 1464.7 613.6 1467.2 615.1C1469.7 616.6 1472.3 617.3 1473.3 617.7" stroke="#ff0000" stroke-width="9.3"/><path d="M1494.4 633.5C1496.5 635.1 1503.2 640.1 1506.7 643.2C1510.2 646.3 1512.5 648.5 1515.4 651.9C1518.3 655.2 1521.1 659 1524.2 663.3C1527.3 667.6 1532.5 675.3 1534.2 677.7" stroke="#ff0000" stroke-width="9.3"/><path d="M1549.5 701.8C1551.1 704.9 1555.8 713.8 1559.1 720.2C1562.4 726.6 1565.9 733.7 1569.6 740.4C1573.3 747.1 1579.2 757.1 1581.1 760.5" stroke="#ff0000" stroke-width="9.3"/><path d="M1595.1 786.7C1596.8 789.8 1601.5 797.7 1605.2 805.1C1608.9 812.5 1614.2 823.8 1617.5 831.4C1620.8 839 1623.7 847.5 1624.9 850.7" stroke="#ff0000" stroke-width="9.3"/><path d="M1641.2 881.2C1643.1 884.3 1649.4 893.5 1652.5 900C1655.6 906.5 1657.4 912.8 1660 920C1662.6 927.2 1666.9 939.2 1668.3 943" stroke="#ff0000" stroke-width="9.3"/><path d="M1679.3 973.7C1680.6 977.5 1684.6 989.3 1687.2 996.5C1689.8 1003.7 1693.3 1010.1 1695.1 1016.7C1696.8 1023.3 1697 1031.6 1697.7 1036C1698.4 1040.4 1699 1041.8 1699.2 1042.9" stroke="#ff0000" stroke-width="9.3"/><path d="M1710.2 1020C1710.2 1022.2 1710.3 1028.8 1710.4 1033C1710.5 1037.2 1710.6 1043.2 1710.6 1045.3" stroke="#ff0000" stroke-width="9.3"/><path d="M1714.5 1050L1717.3 1063.4" stroke="#ff0000" stroke-width="9.3"/><path d="M1722.1 1089.5C1722.6 1091.2 1724 1096.6 1725 1100C1726 1103.4 1727.5 1108.3 1728 1110" stroke="#ff0000" stroke-width="9.3"/><path d="M1734.7 1064.2L1735 1065" stroke="#ff0000" stroke-width="9.3"/><path d="M1733 1092L1733.3 1093" stroke="#ff0000" stroke-width="9.3"/></g>
<g font-family="'Liberation Sans', Arial, Helvetica, sans-serif" fill="#000"><g font-size="65" text-anchor="middle"><text x="323.8" y="1369">0.05</text><text x="505.2" y="1369">0.10</text><text x="686.4" y="1369">0.15</text><text x="866.9" y="1369">0.20</text><text x="1155.8" y="1369">0.05</text><text x="1336.7" y="1369">0.10</text><text x="1517.7" y="1369">0.15</text><text x="1699" y="1369">0.20</text></g><text font-size="64.5" x="858.7" y="164.5" text-anchor="end">1.4 MPa</text><text font-size="65" x="1696" y="158.4" text-anchor="end">300 MPa</text><text font-size="74" x="834" y="1509">s (1/nm)</text><text font-size="74" transform="translate(111.5 847) rotate(-90)">I(s) s<tspan font-size="47.5" dy="-39">2</tspan><tspan dy="39"> (a.u.)</tspan></text><g font-size="53.6"><text x="2017.5" y="478.1">iPP</text><text x="2017.5" y="544.9">PP/CN1</text><text x="2017.5" y="611.2">PP/CN3</text><text x="2017.5" y="677.5">PP/CN5</text><text x="2017.5" y="743.9">PP/MT5</text><text x="2017.5" y="810.1">iPP(i)</text><text x="2017.5" y="876.4">PP/CN5(i)</text></g></g>
<g fill="none" stroke-linecap="round" stroke-width="8.4"><path d="M1829 460.2H1980.5" stroke="#000000"/><path d="M1829 527H1980.5" stroke="#0000ff"/><path d="M1829 593.3H1980.5" stroke="#800080"/><path d="M1829 659.6H1980.5" stroke="#ff0000"/><path d="M1829 726H1980.5" stroke="#008000"/><path d="M1829 792.2H1899M1929 792.2H1980.5" stroke="#000000"/><path d="M1829 858.5H1899M1929 858.5H1980.5" stroke="#ff0000"/></g>
</svg>
</body></html>
